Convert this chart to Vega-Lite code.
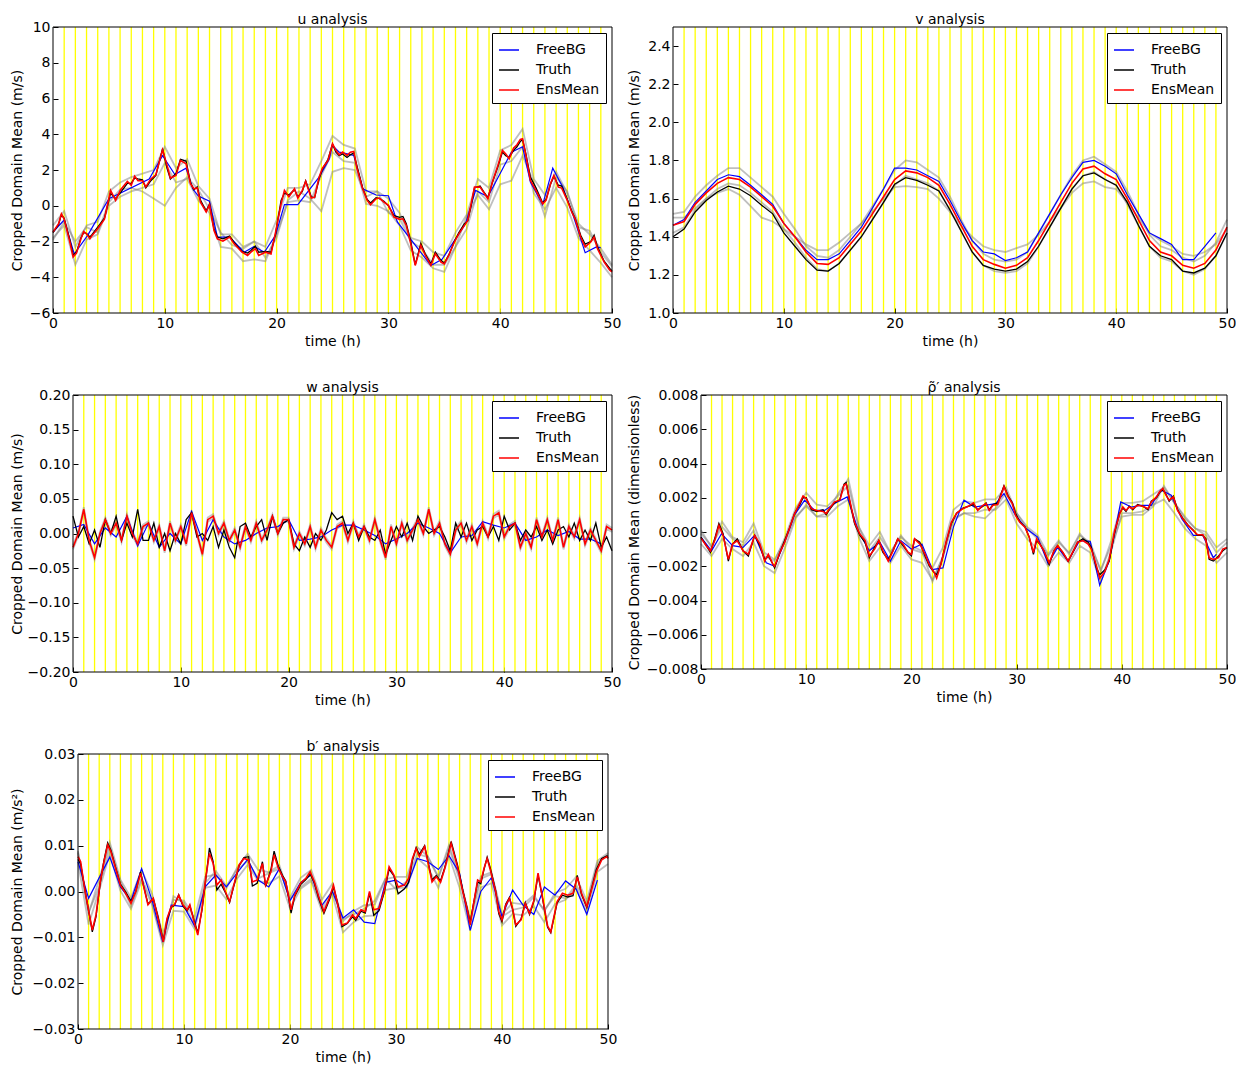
{
  "$schema": "https://vega.github.io/schema/vega-lite/v6.json",
  "padding": {"left": 10, "top": 13, "right": 0, "bottom": 0},
  "config": {
    "font": "DejaVu Sans",
    "view": {"stroke": null},
    "axis": {"grid": false, "domain": false, "tickColor": "#000000", "tickSize": -5, "labelPadding": 8, "labelFontSize": 14, "titleFontSize": 14, "titleFontWeight": "normal", "labelColor": "#000000", "titleColor": "#000000", "labelFlush": false, "labelOverlap": false, "labelSeparation": 0, "titlePadding": 4, "labelFont": "DejaVu Sans", "titleFont": "DejaVu Sans"},
    "title": {"fontSize": 14, "fontWeight": "normal", "color": "#000000", "font": "DejaVu Sans", "offset": -7, "frame": "group"},
    "legend": {"orient": "top-right", "offset": 6, "fillColor": "#ffffff", "strokeColor": "#000000", "padding": 6, "cornerRadius": 0, "symbolType": "stroke", "symbolSize": 400, "symbolStrokeWidth": 1.5, "labelFontSize": 14, "labelFont": "DejaVu Sans", "labelColor": "#000000", "labelOffset": 16, "rowPadding": 2}
  },
  "datasets": {
    "cycles": [{"t":1},{"t":2},{"t":3},{"t":4},{"t":5},{"t":6},{"t":7},{"t":8},{"t":9},{"t":10},{"t":11},{"t":12},{"t":13},{"t":14},{"t":15},{"t":16},{"t":17},{"t":18},{"t":19},{"t":20},{"t":21},{"t":22},{"t":23},{"t":24},{"t":25},{"t":26},{"t":27},{"t":28},{"t":29},{"t":30},{"t":31},{"t":32},{"t":33},{"t":34},{"t":35},{"t":36},{"t":37},{"t":38},{"t":39},{"t":40},{"t":41},{"t":42},{"t":43},{"t":44},{"t":45},{"t":46},{"t":47},{"t":48},{"t":49}],
    "u": [
      {"t":0,"EnsMean":-1.47,"Truth":-1.5},{"t":0.5,"EnsMean":-1.0,"Truth":-1.05},{"t":0.75,"EnsMean":-0.45,"Truth":-0.5},{"t":1,"EnsMean":-0.75,"Truth":-0.7},{"t":1.5,"EnsMean":-2.0,"Truth":-1.9},{"t":1.8,"EnsMean":-2.87,"Truth":-2.75},{"t":2.1,"EnsMean":-2.65,"Truth":-2.6},{"t":2.5,"EnsMean":-1.85,"Truth":-1.8},{"t":2.75,"EnsMean":-1.44,"Truth":-1.5},{"t":3,"EnsMean":-1.57,"Truth":-1.55},{"t":3.3,"EnsMean":-1.85,"Truth":-1.75},{"t":3.5,"EnsMean":-1.66,"Truth":-1.6},{"t":4,"EnsMean":-1.29,"Truth":-1.2},{"t":4.6,"EnsMean":-0.75,"Truth":-0.7},{"t":5.15,"EnsMean":0.86,"Truth":0.7},{"t":5.6,"EnsMean":0.3,"Truth":0.4},{"t":6.05,"EnsMean":0.9,"Truth":0.75},{"t":6.65,"EnsMean":1.36,"Truth":1.25},{"t":7,"EnsMean":1.14,"Truth":1.25},{"t":7.3,"EnsMean":1.66,"Truth":1.55},{"t":7.6,"EnsMean":1.4,"Truth":1.5},{"t":8,"EnsMean":1.4,"Truth":1.45},{"t":8.3,"EnsMean":1.05,"Truth":1.0},{"t":8.75,"EnsMean":1.5,"Truth":1.4},{"t":9.2,"EnsMean":1.73,"Truth":1.7},{"t":9.8,"EnsMean":3.13,"Truth":3.2},{"t":10.2,"EnsMean":2.26,"Truth":2.1},{"t":10.5,"EnsMean":1.55,"Truth":1.5},{"t":11,"EnsMean":1.7,"Truth":1.8},{"t":11.4,"EnsMean":2.54,"Truth":2.6},{"t":11.9,"EnsMean":2.35,"Truth":2.5},{"t":12.3,"EnsMean":1.23,"Truth":1.3},{"t":12.6,"EnsMean":0.95,"Truth":0.9},{"t":12.9,"EnsMean":0.99,"Truth":1.05},{"t":13.2,"EnsMean":0.2,"Truth":0.3},{"t":13.7,"EnsMean":-0.35,"Truth":-0.3},{"t":14,"EnsMean":0.06,"Truth":0.1},{"t":14.4,"EnsMean":-1.38,"Truth":-1.3},{"t":14.7,"EnsMean":-1.85,"Truth":-1.75},{"t":15.2,"EnsMean":-1.98,"Truth":-1.85},{"t":15.8,"EnsMean":-1.75,"Truth":-1.7},{"t":16.2,"EnsMean":-2.13,"Truth":-2.05},{"t":16.9,"EnsMean":-2.59,"Truth":-2.55},{"t":17.4,"EnsMean":-2.78,"Truth":-2.65},{"t":17.7,"EnsMean":-2.6,"Truth":-2.5},{"t":18.1,"EnsMean":-2.4,"Truth":-2.25},{"t":18.4,"EnsMean":-2.78,"Truth":-2.6},{"t":19,"EnsMean":-2.6,"Truth":-2.55},{"t":19.5,"EnsMean":-2.7,"Truth":-2.6},{"t":19.9,"EnsMean":-1.5,"Truth":-1.6},{"t":20.4,"EnsMean":0.1,"Truth":0.3},{"t":20.7,"EnsMean":0.86,"Truth":0.7},{"t":21.1,"EnsMean":0.5,"Truth":0.6},{"t":21.6,"EnsMean":0.95,"Truth":0.9},{"t":21.9,"EnsMean":0.43,"Truth":0.5},{"t":22.3,"EnsMean":0.86,"Truth":0.8},{"t":22.6,"EnsMean":1.36,"Truth":1.4},{"t":23.1,"EnsMean":0.43,"Truth":0.5},{"t":23.4,"EnsMean":0.48,"Truth":0.45},{"t":23.8,"EnsMean":1.6,"Truth":1.5},{"t":24.1,"EnsMean":2.1,"Truth":2.05},{"t":24.6,"EnsMean":2.54,"Truth":2.6},{"t":25,"EnsMean":3.47,"Truth":3.45},{"t":25.3,"EnsMean":3.1,"Truth":3.0},{"t":25.6,"EnsMean":2.85,"Truth":2.8},{"t":25.9,"EnsMean":3.0,"Truth":2.9},{"t":26.3,"EnsMean":2.82,"Truth":2.7},{"t":26.6,"EnsMean":3.0,"Truth":2.85},{"t":26.9,"EnsMean":3.04,"Truth":2.95},{"t":27.2,"EnsMean":2.07,"Truth":2.2},{"t":27.7,"EnsMean":0.95,"Truth":1.0},{"t":28.1,"EnsMean":0.3,"Truth":0.35},{"t":28.4,"EnsMean":0.06,"Truth":0.15},{"t":28.9,"EnsMean":0.39,"Truth":0.45},{"t":29.2,"EnsMean":0.43,"Truth":0.4},{"t":29.6,"EnsMean":0.2,"Truth":0.25},{"t":30,"EnsMean":0.02,"Truth":0.0},{"t":30.5,"EnsMean":-0.63,"Truth":-0.55},{"t":31,"EnsMean":-0.76,"Truth":-0.65},{"t":31.3,"EnsMean":-0.73,"Truth":-0.6},{"t":31.6,"EnsMean":-1.1,"Truth":-1.0},{"t":32,"EnsMean":-2.13,"Truth":-2.0},{"t":32.4,"EnsMean":-3.34,"Truth":-3.3},{"t":32.9,"EnsMean":-2.22,"Truth":-2.1},{"t":33.3,"EnsMean":-2.78,"Truth":-2.7},{"t":33.8,"EnsMean":-3.34,"Truth":-3.25},{"t":34.2,"EnsMean":-2.69,"Truth":-2.6},{"t":34.7,"EnsMean":-3.15,"Truth":-3.05},{"t":35,"EnsMean":-3.25,"Truth":-3.2},{"t":35.4,"EnsMean":-2.78,"Truth":-2.75},{"t":35.9,"EnsMean":-2.03,"Truth":-2.0},{"t":36.3,"EnsMean":-1.57,"Truth":-1.5},{"t":36.8,"EnsMean":-1.1,"Truth":-1.0},{"t":37.1,"EnsMean":-0.82,"Truth":-0.85},{"t":37.4,"EnsMean":0.11,"Truth":0.0},{"t":37.7,"EnsMean":1.04,"Truth":1.0},{"t":38.2,"EnsMean":1.04,"Truth":1.1},{"t":38.5,"EnsMean":0.77,"Truth":0.8},{"t":38.9,"EnsMean":0.39,"Truth":0.45},{"t":39.3,"EnsMean":1.32,"Truth":1.3},{"t":39.8,"EnsMean":2.26,"Truth":2.2},{"t":40.2,"EnsMean":3.1,"Truth":3.0},{"t":40.5,"EnsMean":2.9,"Truth":2.8},{"t":40.8,"EnsMean":2.63,"Truth":2.7},{"t":41.2,"EnsMean":3.23,"Truth":3.1},{"t":41.5,"EnsMean":3.41,"Truth":3.3},{"t":41.8,"EnsMean":3.71,"Truth":3.6},{"t":42,"EnsMean":3.75,"Truth":3.7},{"t":42.3,"EnsMean":2.82,"Truth":2.9},{"t":42.7,"EnsMean":1.42,"Truth":1.6},{"t":43.2,"EnsMean":0.86,"Truth":1.0},{"t":43.8,"EnsMean":0.1,"Truth":0.15},{"t":44.1,"EnsMean":0.3,"Truth":0.35},{"t":44.5,"EnsMean":1.23,"Truth":1.2},{"t":44.8,"EnsMean":1.7,"Truth":1.65},{"t":45.2,"EnsMean":1.04,"Truth":1.15},{"t":45.5,"EnsMean":0.99,"Truth":1.1},{"t":46,"EnsMean":0.3,"Truth":0.35},{"t":46.4,"EnsMean":-0.35,"Truth":-0.3},{"t":46.7,"EnsMean":-0.73,"Truth":-0.7},{"t":47.2,"EnsMean":-1.75,"Truth":-1.65},{"t":47.6,"EnsMean":-2.3,"Truth":-2.15},{"t":48.1,"EnsMean":-2.03,"Truth":-2.0},{"t":48.4,"EnsMean":-1.75,"Truth":-1.65},{"t":48.7,"EnsMean":-2.4,"Truth":-2.3},{"t":49,"EnsMean":-2.78,"Truth":-2.7},{"t":49.3,"EnsMean":-3.15,"Truth":-3.1},{"t":49.8,"EnsMean":-3.6,"Truth":-3.5},{"t":50,"EnsMean":-3.7,"Truth":-3.65},
      {"t":0,"FreeBG":-1.47},{"t":1,"FreeBG":-0.8},{"t":1.9,"FreeBG":-2.7},{"t":3.1,"FreeBG":-1.66},{"t":5,"FreeBG":0.4},{"t":8.6,"FreeBG":1.5},{"t":9.8,"FreeBG":2.8},{"t":10.9,"FreeBG":1.75},{"t":11.9,"FreeBG":2.1},{"t":12.5,"FreeBG":0.95},{"t":13,"FreeBG":0.54},{"t":14,"FreeBG":0.25},{"t":14.7,"FreeBG":-1.75},{"t":15.8,"FreeBG":-1.75},{"t":17.1,"FreeBG":-2.6},{"t":18,"FreeBG":-2.28},{"t":18.9,"FreeBG":-2.6},{"t":19.9,"FreeBG":-1.66},{"t":20.7,"FreeBG":0.06},{"t":21.9,"FreeBG":0.06},{"t":23.8,"FreeBG":1.6},{"t":24.7,"FreeBG":2.6},{"t":25,"FreeBG":3.38},{"t":25.6,"FreeBG":3.0},{"t":26.9,"FreeBG":2.82},{"t":27.7,"FreeBG":0.95},{"t":28.9,"FreeBG":0.6},{"t":30,"FreeBG":0.56},{"t":30.8,"FreeBG":-0.9},{"t":33.8,"FreeBG":-3.34},{"t":34.8,"FreeBG":-3.0},{"t":36.9,"FreeBG":-1.0},{"t":37.8,"FreeBG":0.86},{"t":38.9,"FreeBG":0.5},{"t":41,"FreeBG":3.0},{"t":42,"FreeBG":3.3},{"t":42.7,"FreeBG":1.32},{"t":43.8,"FreeBG":0.06},{"t":44.7,"FreeBG":2.1},{"t":45.6,"FreeBG":1.04},{"t":46.5,"FreeBG":-0.5},{"t":47.6,"FreeBG":-2.63},{"t":48.6,"FreeBG":-2.3},{"t":49,"FreeBG":-2.35},
      {"t":0,"m1":-1.1,"m2":-1.8,"m3":-1.9},{"t":1,"m1":-0.3,"m2":-1.1,"m3":-0.9},{"t":2,"m1":-2.3,"m2":-3.3,"m3":-2.0},{"t":3,"m1":-1.1,"m2":-1.9,"m3":-1.2},{"t":4,"m1":-0.9,"m2":-1.6,"m3":-1.5},{"t":5,"m1":0.8,"m2":0.0,"m3":0.2},{"t":6,"m1":1.3,"m2":0.5,"m3":0.9},{"t":7,"m1":1.6,"m2":0.8,"m3":1.0},{"t":8,"m1":1.8,"m2":1.0,"m3":0.8},{"t":9,"m1":2.0,"m2":1.2,"m3":0.4},{"t":10,"m1":3.3,"m2":2.4,"m3":0.0},{"t":11,"m1":2.1,"m2":1.3,"m3":1.0},{"t":12,"m1":2.6,"m2":1.5,"m3":1.6},{"t":13,"m1":1.1,"m2":0.3,"m3":0.9},{"t":14,"m1":0.4,"m2":-0.4,"m3":-0.2},{"t":15,"m1":-1.6,"m2":-2.3,"m3":-1.5},{"t":16,"m1":-1.6,"m2":-2.4,"m3":-2.2},{"t":17,"m1":-2.3,"m2":-3.1,"m3":-2.4},{"t":18,"m1":-2.0,"m2":-3.0,"m3":-2.0},{"t":19,"m1":-2.3,"m2":-3.1,"m3":-2.9},{"t":20,"m1":-0.8,"m2":-1.6,"m3":-1.8},{"t":21,"m1":1.0,"m2":0.2,"m3":0.3},{"t":22,"m1":1.0,"m2":0.3,"m3":0.8},{"t":23,"m1":1.2,"m2":0.2,"m3":0.4},{"t":24,"m1":2.5,"m2":1.7,"m3":-0.3},{"t":25,"m1":3.9,"m2":3.0,"m3":1.9},{"t":26,"m1":3.4,"m2":2.5,"m3":2.1},{"t":27,"m1":3.2,"m2":2.4,"m3":2.0},{"t":28,"m1":0.8,"m2":0.1,"m3":0.5},{"t":29,"m1":0.8,"m2":0.0,"m3":0.8},{"t":30,"m1":0.4,"m2":-0.3,"m3":-0.4},{"t":31,"m1":-0.4,"m2":-1.1,"m3":-0.7},{"t":32,"m1":-1.8,"m2":-2.5,"m3":-2.0},{"t":33,"m1":-2.0,"m2":-2.9,"m3":-2.4},{"t":34,"m1":-2.6,"m2":-3.5,"m3":-3.3},{"t":35,"m1":-2.8,"m2":-3.7,"m3":-3.3},{"t":36,"m1":-1.5,"m2":-2.3,"m3":-2.3},{"t":37,"m1":-0.5,"m2":-1.3,"m3":-0.6},{"t":38,"m1":1.5,"m2":0.8,"m3":0.6},{"t":39,"m1":1.0,"m2":0.2,"m3":-0.2},{"t":40,"m1":3.1,"m2":2.3,"m3":1.2},{"t":41,"m1":3.4,"m2":2.5,"m3":1.4},{"t":42,"m1":4.3,"m2":3.3,"m3":2.8},{"t":43,"m1":1.5,"m2":0.7,"m3":1.3},{"t":44,"m1":0.6,"m2":-0.2,"m3":-0.6},{"t":45,"m1":1.9,"m2":1.0,"m3":1.6},{"t":46,"m1":0.7,"m2":-0.1,"m3":0.8},{"t":47,"m1":-1.0,"m2":-1.8,"m3":-1.2},{"t":48,"m1":-1.6,"m2":-2.5,"m3":-1.4},{"t":49,"m1":-2.4,"m2":-3.2,"m3":-2.6},{"t":50,"m1":-3.3,"m2":-4.0,"m3":-3.4}
    ],
    "v": [
      {"t":0,"EnsMean":1.46,"Truth":1.40,"FreeBG":1.46,"m1":1.52,"m2":1.42,"m3":1.50},
      {"t":1,"EnsMean":1.48,"Truth":1.44,"FreeBG":1.49,"m1":1.53,"m2":1.45,"m3":1.50},
      {"t":2,"EnsMean":1.57,"Truth":1.53,"FreeBG":1.58,"m1":1.61,"m2":1.54,"m3":1.55},
      {"t":3,"EnsMean":1.63,"Truth":1.59,"FreeBG":1.64,"m1":1.67,"m2":1.60,"m3":1.60},
      {"t":4,"EnsMean":1.68,"Truth":1.635,"FreeBG":1.70,"m1":1.72,"m2":1.65,"m3":1.63},
      {"t":5,"EnsMean":1.71,"Truth":1.665,"FreeBG":1.725,"m1":1.76,"m2":1.68,"m3":1.65},
      {"t":6,"EnsMean":1.70,"Truth":1.65,"FreeBG":1.715,"m1":1.76,"m2":1.67,"m3":1.62},
      {"t":7,"EnsMean":1.66,"Truth":1.615,"FreeBG":1.67,"m1":1.71,"m2":1.63,"m3":1.56},
      {"t":8,"EnsMean":1.61,"Truth":1.565,"FreeBG":1.62,"m1":1.66,"m2":1.58,"m3":1.50},
      {"t":9,"EnsMean":1.56,"Truth":1.52,"FreeBG":1.57,"m1":1.61,"m2":1.53,"m3":1.48},
      {"t":10,"EnsMean":1.47,"Truth":1.42,"FreeBG":1.47,"m1":1.52,"m2":1.44,"m3":1.44},
      {"t":11,"EnsMean":1.40,"Truth":1.35,"FreeBG":1.40,"m1":1.44,"m2":1.37,"m3":1.40},
      {"t":12,"EnsMean":1.32,"Truth":1.28,"FreeBG":1.33,"m1":1.35,"m2":1.29,"m3":1.36},
      {"t":13,"EnsMean":1.26,"Truth":1.225,"FreeBG":1.28,"m1":1.30,"m2":1.23,"m3":1.33},
      {"t":14,"EnsMean":1.255,"Truth":1.22,"FreeBG":1.28,"m1":1.29,"m2":1.22,"m3":1.33},
      {"t":15,"EnsMean":1.29,"Truth":1.26,"FreeBG":1.31,"m1":1.33,"m2":1.26,"m3":1.37},
      {"t":16,"EnsMean":1.36,"Truth":1.33,"FreeBG":1.38,"m1":1.40,"m2":1.33,"m3":1.42},
      {"t":17,"EnsMean":1.43,"Truth":1.40,"FreeBG":1.45,"m1":1.47,"m2":1.40,"m3":1.47},
      {"t":18,"EnsMean":1.52,"Truth":1.49,"FreeBG":1.55,"m1":1.56,"m2":1.49,"m3":1.53},
      {"t":19,"EnsMean":1.61,"Truth":1.58,"FreeBG":1.65,"m1":1.65,"m2":1.58,"m3":1.60},
      {"t":20,"EnsMean":1.70,"Truth":1.675,"FreeBG":1.76,"m1":1.75,"m2":1.67,"m3":1.66},
      {"t":21,"EnsMean":1.745,"Truth":1.71,"FreeBG":1.76,"m1":1.80,"m2":1.72,"m3":1.665},
      {"t":22,"EnsMean":1.735,"Truth":1.695,"FreeBG":1.75,"m1":1.79,"m2":1.70,"m3":1.66},
      {"t":23,"EnsMean":1.71,"Truth":1.67,"FreeBG":1.72,"m1":1.75,"m2":1.68,"m3":1.65},
      {"t":24,"EnsMean":1.67,"Truth":1.64,"FreeBG":1.69,"m1":1.71,"m2":1.64,"m3":1.60},
      {"t":25,"EnsMean":1.57,"Truth":1.54,"FreeBG":1.59,"m1":1.61,"m2":1.54,"m3":1.53},
      {"t":26,"EnsMean":1.46,"Truth":1.43,"FreeBG":1.48,"m1":1.49,"m2":1.43,"m3":1.46},
      {"t":27,"EnsMean":1.35,"Truth":1.32,"FreeBG":1.38,"m1":1.38,"m2":1.32,"m3":1.40},
      {"t":28,"EnsMean":1.28,"Truth":1.25,"FreeBG":1.32,"m1":1.31,"m2":1.25,"m3":1.35},
      {"t":29,"EnsMean":1.255,"Truth":1.23,"FreeBG":1.31,"m1":1.28,"m2":1.22,"m3":1.33},
      {"t":30,"EnsMean":1.235,"Truth":1.22,"FreeBG":1.275,"m1":1.27,"m2":1.21,"m3":1.32},
      {"t":31,"EnsMean":1.25,"Truth":1.23,"FreeBG":1.29,"m1":1.28,"m2":1.22,"m3":1.34},
      {"t":32,"EnsMean":1.29,"Truth":1.27,"FreeBG":1.32,"m1":1.32,"m2":1.26,"m3":1.36},
      {"t":33,"EnsMean":1.38,"Truth":1.35,"FreeBG":1.42,"m1":1.42,"m2":1.35,"m3":1.41},
      {"t":34,"EnsMean":1.48,"Truth":1.45,"FreeBG":1.52,"m1":1.52,"m2":1.45,"m3":1.48},
      {"t":35,"EnsMean":1.58,"Truth":1.55,"FreeBG":1.62,"m1":1.62,"m2":1.55,"m3":1.55},
      {"t":36,"EnsMean":1.68,"Truth":1.65,"FreeBG":1.71,"m1":1.72,"m2":1.65,"m3":1.63},
      {"t":37,"EnsMean":1.755,"Truth":1.72,"FreeBG":1.79,"m1":1.80,"m2":1.72,"m3":1.68},
      {"t":38,"EnsMean":1.77,"Truth":1.735,"FreeBG":1.80,"m1":1.82,"m2":1.74,"m3":1.69},
      {"t":39,"EnsMean":1.73,"Truth":1.70,"FreeBG":1.77,"m1":1.78,"m2":1.70,"m3":1.66},
      {"t":40,"EnsMean":1.70,"Truth":1.67,"FreeBG":1.73,"m1":1.74,"m2":1.67,"m3":1.65},
      {"t":41,"EnsMean":1.60,"Truth":1.58,"FreeBG":1.62,"m1":1.64,"m2":1.57,"m3":1.58},
      {"t":42,"EnsMean":1.49,"Truth":1.46,"FreeBG":1.52,"m1":1.52,"m2":1.46,"m3":1.50},
      {"t":43,"EnsMean":1.38,"Truth":1.35,"FreeBG":1.42,"m1":1.41,"m2":1.35,"m3":1.42},
      {"t":44,"EnsMean":1.32,"Truth":1.30,"FreeBG":1.39,"m1":1.35,"m2":1.29,"m3":1.38},
      {"t":45,"EnsMean":1.30,"Truth":1.28,"FreeBG":1.36,"m1":1.33,"m2":1.27,"m3":1.35},
      {"t":46,"EnsMean":1.25,"Truth":1.22,"FreeBG":1.28,"m1":1.29,"m2":1.22,"m3":1.31},
      {"t":47,"EnsMean":1.235,"Truth":1.21,"FreeBG":1.28,"m1":1.27,"m2":1.20,"m3":1.30},
      {"t":48,"EnsMean":1.26,"Truth":1.235,"FreeBG":1.35,"m1":1.30,"m2":1.23,"m3":1.32},
      {"t":49,"EnsMean":1.33,"Truth":1.30,"FreeBG":1.42,"m1":1.37,"m2":1.30,"m3":1.36},
      {"t":50,"EnsMean":1.45,"Truth":1.42,"m1":1.49,"m2":1.42,"m3":1.44}
    ],
    "w": [
      {"t":0,"EnsMean":-0.02,"Truth":0.025,"FreeBG":0.008,"m1":-0.017,"m2":-0.023},{"t":0.5,"EnsMean":0.0,"Truth":-0.005,"m1":0.003,"m2":-0.003},
      {"t":1,"EnsMean":0.035,"Truth":0.01,"FreeBG":0.013,"m1":0.038,"m2":0.032},{"t":1.5,"EnsMean":-0.01,"Truth":-0.015,"m1":-0.007,"m2":-0.013},
      {"t":2,"EnsMean":-0.035,"Truth":0.005,"FreeBG":-0.015,"m1":-0.032,"m2":-0.038},{"t":2.5,"EnsMean":0.0,"Truth":-0.02,"m1":0.003,"m2":-0.003},
      {"t":3,"EnsMean":0.02,"Truth":0.02,"FreeBG":0.008,"m1":0.023,"m2":0.017},{"t":3.5,"EnsMean":0.0,"Truth":0.0,"m1":0.003,"m2":-0.003},
      {"t":4,"EnsMean":0.015,"Truth":0.025,"FreeBG":-0.005,"m1":0.018,"m2":0.012},{"t":4.5,"EnsMean":-0.01,"Truth":-0.01,"m1":-0.007,"m2":-0.013},
      {"t":5,"EnsMean":0.025,"Truth":0.015,"FreeBG":0.025,"m1":0.028,"m2":0.022},{"t":5.5,"EnsMean":0.0,"Truth":-0.005,"m1":0.003,"m2":-0.003},
      {"t":6,"EnsMean":-0.015,"Truth":0.035,"FreeBG":-0.018,"m1":-0.012,"m2":-0.018},{"t":6.5,"EnsMean":0.01,"Truth":-0.01,"m1":0.013,"m2":0.007},
      {"t":7,"EnsMean":0.015,"Truth":-0.01,"FreeBG":0.015,"m1":0.018,"m2":0.012},{"t":7.5,"EnsMean":-0.01,"Truth":0.015,"m1":-0.007,"m2":-0.013},
      {"t":8,"EnsMean":0.01,"Truth":-0.02,"FreeBG":-0.02,"m1":0.013,"m2":0.007},{"t":8.5,"EnsMean":-0.025,"Truth":0.0,"m1":-0.022,"m2":-0.028},
      {"t":9,"EnsMean":0.015,"Truth":-0.025,"FreeBG":0.0,"m1":0.018,"m2":0.012},{"t":9.5,"EnsMean":-0.01,"Truth":0.0,"m1":-0.007,"m2":-0.013},
      {"t":10,"EnsMean":0.01,"Truth":-0.015,"FreeBG":-0.015,"m1":0.013,"m2":0.007},{"t":10.5,"EnsMean":-0.015,"Truth":0.02,"m1":-0.012,"m2":-0.018},
      {"t":11,"EnsMean":0.03,"Truth":0.03,"FreeBG":0.032,"m1":0.033,"m2":0.027},{"t":11.5,"EnsMean":0.0,"Truth":-0.005,"m1":0.003,"m2":-0.003},
      {"t":12,"EnsMean":-0.03,"Truth":0.0,"FreeBG":-0.01,"m1":-0.027,"m2":-0.033},{"t":12.5,"EnsMean":0.02,"Truth":-0.01,"m1":0.023,"m2":0.017},
      {"t":13,"EnsMean":0.025,"Truth":0.01,"FreeBG":0.02,"m1":0.028,"m2":0.022},{"t":13.5,"EnsMean":0.0,"Truth":-0.02,"m1":0.003,"m2":-0.003},
      {"t":14,"EnsMean":0.015,"Truth":0.005,"FreeBG":-0.005,"m1":0.018,"m2":0.012},{"t":14.5,"EnsMean":-0.01,"Truth":-0.02,"m1":-0.007,"m2":-0.013},
      {"t":15,"EnsMean":0.005,"Truth":-0.035,"FreeBG":-0.015,"m1":0.008,"m2":0.002},{"t":15.5,"EnsMean":-0.02,"Truth":0.01,"m1":-0.017,"m2":-0.023},
      {"t":16,"EnsMean":0.01,"Truth":0.015,"FreeBG":-0.01,"m1":0.013,"m2":0.007},{"t":16.5,"EnsMean":-0.01,"Truth":-0.005,"m1":-0.007,"m2":-0.013},
      {"t":17,"EnsMean":0.015,"Truth":0.01,"FreeBG":0.0,"m1":0.018,"m2":0.012},{"t":17.5,"EnsMean":-0.01,"Truth":0.02,"m1":-0.007,"m2":-0.013},
      {"t":18,"EnsMean":0.005,"Truth":-0.01,"FreeBG":0.008,"m1":0.008,"m2":0.002},{"t":18.5,"EnsMean":0.025,"Truth":0.025,"m1":0.028,"m2":0.022},
      {"t":19,"EnsMean":0.0,"Truth":0.0,"FreeBG":0.01,"m1":0.003,"m2":-0.003},{"t":19.5,"EnsMean":0.02,"Truth":0.015,"m1":0.023,"m2":0.017},
      {"t":20,"EnsMean":0.02,"Truth":0.02,"FreeBG":0.02,"m1":0.023,"m2":0.017},{"t":20.5,"EnsMean":-0.02,"Truth":-0.015,"m1":-0.017,"m2":-0.023},
      {"t":21,"EnsMean":0.0,"Truth":-0.025,"FreeBG":-0.01,"m1":0.003,"m2":-0.003},{"t":21.5,"EnsMean":-0.015,"Truth":-0.005,"m1":-0.012,"m2":-0.018},
      {"t":22,"EnsMean":0.01,"Truth":-0.02,"FreeBG":-0.008,"m1":0.013,"m2":0.007},{"t":22.5,"EnsMean":-0.02,"Truth":0.0,"m1":-0.017,"m2":-0.023},
      {"t":23,"EnsMean":0.005,"Truth":-0.01,"FreeBG":-0.005,"m1":0.008,"m2":0.002},{"t":23.5,"EnsMean":-0.01,"Truth":0.005,"m1":-0.007,"m2":-0.013},
      {"t":24,"EnsMean":-0.02,"Truth":0.03,"FreeBG":0.005,"m1":-0.017,"m2":-0.023},{"t":24.5,"EnsMean":0.01,"Truth":0.02,"m1":0.013,"m2":0.007},
      {"t":25,"EnsMean":0.015,"Truth":0.025,"FreeBG":0.012,"m1":0.018,"m2":0.012},{"t":25.5,"EnsMean":-0.01,"Truth":0.0,"m1":-0.007,"m2":-0.013},
      {"t":26,"EnsMean":0.015,"Truth":0.015,"FreeBG":0.012,"m1":0.018,"m2":0.012},{"t":26.5,"EnsMean":-0.005,"Truth":-0.01,"m1":-0.002,"m2":-0.008},
      {"t":27,"EnsMean":0.01,"Truth":0.01,"FreeBG":0.005,"m1":0.013,"m2":0.007},{"t":27.5,"EnsMean":-0.01,"Truth":-0.005,"m1":-0.007,"m2":-0.013},
      {"t":28,"EnsMean":0.02,"Truth":-0.01,"FreeBG":-0.003,"m1":0.023,"m2":0.017},{"t":28.5,"EnsMean":-0.01,"Truth":0.005,"m1":-0.007,"m2":-0.013},
      {"t":29,"EnsMean":-0.035,"Truth":-0.03,"FreeBG":-0.015,"m1":-0.032,"m2":-0.038},{"t":29.5,"EnsMean":0.01,"Truth":-0.01,"m1":0.013,"m2":0.007},
      {"t":30,"EnsMean":-0.015,"Truth":0.01,"FreeBG":-0.008,"m1":-0.012,"m2":-0.018},{"t":30.5,"EnsMean":0.015,"Truth":-0.005,"m1":0.018,"m2":0.012},
      {"t":31,"EnsMean":-0.01,"Truth":0.015,"FreeBG":0.0,"m1":-0.007,"m2":-0.013},{"t":31.5,"EnsMean":0.005,"Truth":-0.01,"m1":0.008,"m2":0.002},
      {"t":32,"EnsMean":0.02,"Truth":0.025,"FreeBG":0.015,"m1":0.023,"m2":0.017},{"t":32.5,"EnsMean":0.0,"Truth":0.01,"m1":0.003,"m2":-0.003},
      {"t":33,"EnsMean":0.035,"Truth":0.0,"FreeBG":0.008,"m1":0.038,"m2":0.032},{"t":33.5,"EnsMean":0.0,"Truth":0.005,"m1":0.003,"m2":-0.003},
      {"t":34,"EnsMean":0.015,"Truth":0.01,"FreeBG":0.0,"m1":0.018,"m2":0.012},{"t":34.5,"EnsMean":-0.015,"Truth":-0.005,"m1":-0.012,"m2":-0.018},
      {"t":35,"EnsMean":-0.03,"Truth":-0.025,"FreeBG":-0.028,"m1":-0.027,"m2":-0.033},{"t":35.5,"EnsMean":0.005,"Truth":0.015,"m1":0.008,"m2":0.002},
      {"t":36,"EnsMean":0.015,"Truth":-0.005,"FreeBG":-0.005,"m1":0.018,"m2":0.012},{"t":36.5,"EnsMean":-0.01,"Truth":0.015,"m1":-0.007,"m2":-0.013},
      {"t":37,"EnsMean":0.01,"Truth":-0.01,"FreeBG":-0.003,"m1":0.013,"m2":0.007},{"t":37.5,"EnsMean":-0.015,"Truth":0.005,"m1":-0.012,"m2":-0.018},
      {"t":38,"EnsMean":0.015,"Truth":0.01,"FreeBG":0.017,"m1":0.018,"m2":0.012},{"t":38.5,"EnsMean":-0.005,"Truth":-0.005,"m1":-0.002,"m2":-0.008},
      {"t":39,"EnsMean":0.025,"Truth":0.01,"FreeBG":0.012,"m1":0.028,"m2":0.022},{"t":39.5,"EnsMean":0.03,"Truth":-0.01,"m1":0.033,"m2":0.027},
      {"t":40,"EnsMean":-0.005,"Truth":0.025,"FreeBG":0.008,"m1":-0.002,"m2":-0.008},{"t":40.5,"EnsMean":0.01,"Truth":0.005,"m1":0.013,"m2":0.007},
      {"t":41,"EnsMean":0.015,"Truth":0.015,"FreeBG":0.015,"m1":0.018,"m2":0.012},{"t":41.5,"EnsMean":-0.02,"Truth":-0.01,"m1":-0.017,"m2":-0.023},
      {"t":42,"EnsMean":0.0,"Truth":0.005,"FreeBG":-0.01,"m1":0.003,"m2":-0.003},{"t":42.5,"EnsMean":-0.02,"Truth":-0.005,"m1":-0.017,"m2":-0.023},
      {"t":43,"EnsMean":0.02,"Truth":0.01,"FreeBG":-0.005,"m1":0.023,"m2":0.017},{"t":43.5,"EnsMean":-0.005,"Truth":-0.01,"m1":-0.002,"m2":-0.008},
      {"t":44,"EnsMean":0.02,"Truth":0.005,"FreeBG":0.005,"m1":0.023,"m2":0.017},{"t":44.5,"EnsMean":-0.01,"Truth":-0.015,"m1":-0.007,"m2":-0.013},
      {"t":45,"EnsMean":0.02,"Truth":0.005,"FreeBG":-0.003,"m1":0.023,"m2":0.017},{"t":45.5,"EnsMean":-0.02,"Truth":0.01,"m1":-0.017,"m2":-0.023},
      {"t":46,"EnsMean":0.01,"Truth":-0.005,"FreeBG":0.003,"m1":0.013,"m2":0.007},{"t":46.5,"EnsMean":-0.005,"Truth":0.015,"m1":-0.002,"m2":-0.008},
      {"t":47,"EnsMean":0.02,"Truth":-0.01,"FreeBG":-0.008,"m1":0.023,"m2":0.017},{"t":47.5,"EnsMean":-0.015,"Truth":0.005,"m1":-0.012,"m2":-0.018},
      {"t":48,"EnsMean":0.005,"Truth":-0.01,"FreeBG":-0.008,"m1":0.008,"m2":0.002},{"t":48.5,"EnsMean":-0.01,"Truth":0.015,"m1":-0.007,"m2":-0.013},
      {"t":49,"EnsMean":-0.025,"Truth":-0.02,"FreeBG":-0.015,"m1":-0.022,"m2":-0.028},{"t":49.5,"EnsMean":0.01,"Truth":-0.005,"m1":0.013,"m2":0.007},
      {"t":50,"EnsMean":0.005,"Truth":-0.025,"m1":0.008,"m2":0.002}
    ],
    "rho": [
      {"t":0,"EnsMean":-0.00036,"Truth":-0.0003},{"t":0.5,"EnsMean":-0.0008,"Truth":-0.0008},{"t":0.9,"EnsMean":-0.0011,"Truth":-0.0012},{"t":1.3,"EnsMean":-0.0005,"Truth":-0.0004},{"t":1.7,"EnsMean":0.00038,"Truth":0.0005},{"t":2.1,"EnsMean":-0.0002,"Truth":-0.0001},{"t":2.6,"EnsMean":-0.0016,"Truth":-0.0017},{"t":3,"EnsMean":-0.0007,"Truth":-0.0007},{"t":3.45,"EnsMean":-0.0005,"Truth":-0.0004},{"t":4,"EnsMean":-0.0011,"Truth":-0.0011},{"t":4.5,"EnsMean":-0.0013,"Truth":-0.0014},{"t":5.1,"EnsMean":-0.0002,"Truth":-0.0002},{"t":5.6,"EnsMean":-0.0007,"Truth":-0.0008},{"t":6.05,"EnsMean":-0.0017,"Truth":-0.0016},{"t":6.4,"EnsMean":-0.0013,"Truth":-0.0014},{"t":6.85,"EnsMean":-0.0019,"Truth":-0.0019},{"t":7,"EnsMean":-0.002,"Truth":-0.0021},{"t":7.5,"EnsMean":-0.0012,"Truth":-0.0012},{"t":7.95,"EnsMean":-0.0006,"Truth":-0.0005},{"t":8.4,"EnsMean":0.0002,"Truth":0.0002},{"t":8.9,"EnsMean":0.00107,"Truth":0.0011},{"t":9.4,"EnsMean":0.0017,"Truth":0.0016},{"t":9.7,"EnsMean":0.0021,"Truth":0.002},{"t":10,"EnsMean":0.00195,"Truth":0.002},{"t":10.5,"EnsMean":0.00136,"Truth":0.0013},{"t":11,"EnsMean":0.00126,"Truth":0.0012},{"t":11.6,"EnsMean":0.0012,"Truth":0.0013},{"t":11.9,"EnsMean":0.00107,"Truth":0.001},{"t":12.2,"EnsMean":0.00136,"Truth":0.0013},{"t":12.7,"EnsMean":0.00176,"Truth":0.0017},{"t":13.2,"EnsMean":0.00186,"Truth":0.0019},{"t":13.6,"EnsMean":0.00275,"Truth":0.0028},{"t":13.8,"EnsMean":0.0028,"Truth":0.0029},{"t":14.1,"EnsMean":0.00196,"Truth":0.0019},{"t":14.6,"EnsMean":0.00057,"Truth":0.0005},{"t":15.1,"EnsMean":-0.00012,"Truth":-0.0002},{"t":15.6,"EnsMean":-0.0005,"Truth":-0.0006},{"t":16,"EnsMean":-0.0014,"Truth":-0.0015},{"t":16.5,"EnsMean":-0.001,"Truth":-0.0009},{"t":16.9,"EnsMean":-0.0005,"Truth":-0.0005},{"t":17.3,"EnsMean":-0.0011,"Truth":-0.0012},{"t":17.8,"EnsMean":-0.0017,"Truth":-0.0016},{"t":18.25,"EnsMean":-0.0011,"Truth":-0.0011},{"t":18.7,"EnsMean":-0.0004,"Truth":-0.0004},{"t":19.2,"EnsMean":-0.0007,"Truth":-0.0008},{"t":19.7,"EnsMean":-0.0012,"Truth":-0.0012},{"t":20,"EnsMean":-0.0013,"Truth":-0.0014},{"t":20.3,"EnsMean":-0.0004,"Truth":-0.0004},{"t":20.8,"EnsMean":-0.0007,"Truth":-0.0006},{"t":21.3,"EnsMean":-0.0013,"Truth":-0.0014},{"t":21.7,"EnsMean":-0.0019,"Truth":-0.002},{"t":22.2,"EnsMean":-0.0024,"Truth":-0.0024},{"t":22.4,"EnsMean":-0.0027,"Truth":-0.0025},{"t":22.8,"EnsMean":-0.0019,"Truth":-0.0019},{"t":23.3,"EnsMean":-0.0006,"Truth":-0.0006},{"t":23.8,"EnsMean":0.00057,"Truth":0.0005},{"t":24.3,"EnsMean":0.0011,"Truth":0.0011},{"t":24.9,"EnsMean":0.00136,"Truth":0.0014},{"t":25.4,"EnsMean":0.0015,"Truth":0.0015},{"t":25.9,"EnsMean":0.0017,"Truth":0.0016},{"t":26.3,"EnsMean":0.00126,"Truth":0.0013},{"t":26.8,"EnsMean":0.00156,"Truth":0.0015},{"t":27.1,"EnsMean":0.00166,"Truth":0.0017},{"t":27.4,"EnsMean":0.00126,"Truth":0.0013},{"t":27.75,"EnsMean":0.00156,"Truth":0.0016},{"t":28.2,"EnsMean":0.0016,"Truth":0.0017},{"t":28.8,"EnsMean":0.00265,"Truth":0.0027},{"t":29.2,"EnsMean":0.00205,"Truth":0.0021},{"t":29.6,"EnsMean":0.00166,"Truth":0.0017},{"t":29.9,"EnsMean":0.00097,"Truth":0.0011},{"t":30.3,"EnsMean":0.00057,"Truth":0.0006},{"t":30.8,"EnsMean":0.00028,"Truth":0.0003},{"t":31.2,"EnsMean":-0.0003,"Truth":-0.0003},{"t":31.6,"EnsMean":-0.0012,"Truth":-0.0013},{"t":31.9,"EnsMean":-0.0004,"Truth":-0.0005},{"t":32.2,"EnsMean":-0.0007,"Truth":-0.0007},{"t":32.6,"EnsMean":-0.0011,"Truth":-0.0011},{"t":33.1,"EnsMean":-0.0018,"Truth":-0.0019},{"t":33.55,"EnsMean":-0.0011,"Truth":-0.0011},{"t":33.9,"EnsMean":-0.0008,"Truth":-0.0008},{"t":34.4,"EnsMean":-0.0012,"Truth":-0.0012},{"t":34.9,"EnsMean":-0.0017,"Truth":-0.0017},{"t":35.4,"EnsMean":-0.0011,"Truth":-0.0011},{"t":35.8,"EnsMean":-0.0006,"Truth":-0.0006},{"t":36.3,"EnsMean":-0.0005,"Truth":-0.0004},{"t":36.8,"EnsMean":-0.0007,"Truth":-0.0006},{"t":37.1,"EnsMean":-0.001,"Truth":-0.0009},{"t":37.6,"EnsMean":-0.002,"Truth":-0.0021},{"t":37.9,"EnsMean":-0.0027,"Truth":-0.0025},{"t":38.4,"EnsMean":-0.0023,"Truth":-0.0022},{"t":38.8,"EnsMean":-0.0016,"Truth":-0.0017},{"t":39.3,"EnsMean":0.0,"Truth":-0.0001},{"t":39.8,"EnsMean":0.00107,"Truth":0.0011},{"t":40.1,"EnsMean":0.00146,"Truth":0.0014},{"t":40.4,"EnsMean":0.00126,"Truth":0.0012},{"t":40.7,"EnsMean":0.00146,"Truth":0.0015},{"t":41.05,"EnsMean":0.00136,"Truth":0.0013},{"t":41.5,"EnsMean":0.00156,"Truth":0.0016},{"t":42,"EnsMean":0.0015,"Truth":0.0015},{"t":42.5,"EnsMean":0.00136,"Truth":0.0013},{"t":42.8,"EnsMean":0.00176,"Truth":0.0018},{"t":43.3,"EnsMean":0.00205,"Truth":0.002},{"t":43.6,"EnsMean":0.00235,"Truth":0.0023},{"t":43.9,"EnsMean":0.00255,"Truth":0.0025},{"t":44.2,"EnsMean":0.00215,"Truth":0.0022},{"t":44.5,"EnsMean":0.00186,"Truth":0.0018},{"t":44.9,"EnsMean":0.00205,"Truth":0.0021},{"t":45.3,"EnsMean":0.00126,"Truth":0.0013},{"t":45.8,"EnsMean":0.00077,"Truth":0.0008},{"t":46.3,"EnsMean":0.00038,"Truth":0.0004},{"t":46.8,"EnsMean":0.00008,"Truth":0.0001},{"t":47.2,"EnsMean":-0.00016,"Truth":-0.0002},{"t":47.7,"EnsMean":-0.00016,"Truth":-0.0002},{"t":48,"EnsMean":-0.0005,"Truth":-0.0004},{"t":48.3,"EnsMean":-0.0015,"Truth":-0.0016},{"t":48.7,"EnsMean":-0.0016,"Truth":-0.0017},{"t":49.2,"EnsMean":-0.0015,"Truth":-0.0014},{"t":49.6,"EnsMean":-0.001,"Truth":-0.0011},{"t":50,"EnsMean":-0.0009,"Truth":-0.0009},
      {"t":0,"FreeBG":-0.0003},{"t":1,"FreeBG":-0.0011},{"t":1.95,"FreeBG":-0.0001},{"t":3,"FreeBG":-0.0008},{"t":4,"FreeBG":-0.0009},{"t":5.1,"FreeBG":-0.0002},{"t":6.2,"FreeBG":-0.0018},{"t":7,"FreeBG":-0.002},{"t":7.95,"FreeBG":-0.0006},{"t":8.9,"FreeBG":0.001},{"t":9.85,"FreeBG":0.00186},{"t":10.8,"FreeBG":0.00126},{"t":11.75,"FreeBG":0.00126},{"t":12.7,"FreeBG":0.00166},{"t":13.9,"FreeBG":0.00205},{"t":15,"FreeBG":0.0},{"t":16,"FreeBG":-0.0011},{"t":17,"FreeBG":-0.0006},{"t":18,"FreeBG":-0.0017},{"t":19,"FreeBG":-0.0005},{"t":20,"FreeBG":-0.001},{"t":21,"FreeBG":-0.0007},{"t":22,"FreeBG":-0.0022},{"t":23,"FreeBG":-0.0021},{"t":24,"FreeBG":0.0003},{"t":25,"FreeBG":0.00186},{"t":26,"FreeBG":0.00146},{"t":27,"FreeBG":0.00156},{"t":28,"FreeBG":0.00166},{"t":28.8,"FreeBG":0.00225},{"t":29.8,"FreeBG":0.00107},{"t":30.9,"FreeBG":0.0002},{"t":32,"FreeBG":-0.0003},{"t":33,"FreeBG":-0.00186},{"t":33.9,"FreeBG":-0.0009},{"t":34.9,"FreeBG":-0.0017},{"t":36,"FreeBG":-0.0005},{"t":37,"FreeBG":-0.00055},{"t":37.9,"FreeBG":-0.0031},{"t":38.8,"FreeBG":-0.0017},{"t":39.9,"FreeBG":0.00176},{"t":40.9,"FreeBG":0.00146},{"t":41.8,"FreeBG":0.00156},{"t":42.8,"FreeBG":0.00156},{"t":43.7,"FreeBG":0.00245},{"t":44.7,"FreeBG":0.00215},{"t":45.7,"FreeBG":0.00077},{"t":46.8,"FreeBG":-0.0002},{"t":47.7,"FreeBG":-0.0002},{"t":48.7,"FreeBG":-0.0015},{"t":49,"FreeBG":-0.0013},
      {"t":0,"m1":-0.0001,"m2":-0.0007,"m3":0.0001},{"t":1,"m1":-0.0008,"m2":-0.0014,"m3":-0.0009},{"t":2,"m1":0.0003,"m2":-0.0004,"m3":0.0006},{"t":3,"m1":-0.0004,"m2":-0.001,"m3":-0.0003},{"t":4,"m1":-0.0008,"m2":-0.0014,"m3":-0.0006},{"t":5,"m1":0.0001,"m2":-0.0006,"m3":0.0005},{"t":6,"m1":-0.0014,"m2":-0.002,"m3":-0.0012},{"t":7,"m1":-0.0017,"m2":-0.0024,"m3":-0.0016},{"t":8,"m1":-0.0003,"m2":-0.0009,"m3":-0.0005},{"t":9,"m1":0.0014,"m2":0.0008,"m3":0.0009},{"t":10,"m1":0.0023,"m2":0.0016,"m3":0.0015},{"t":11,"m1":0.0016,"m2":0.0009,"m3":0.0009},{"t":12,"m1":0.0015,"m2":0.0009,"m3":0.0011},{"t":13,"m1":0.0021,"m2":0.0015,"m3":0.0022},{"t":14,"m1":0.0027,"m2":0.0019,"m3":0.0031},{"t":15,"m1":0.0003,"m2":-0.0003,"m3":0.0003},{"t":16,"m1":-0.0011,"m2":-0.0017,"m3":-0.0008},{"t":17,"m1":-0.0003,"m2":-0.0009,"m3":0.0},{"t":18,"m1":-0.0012,"m2":-0.0018,"m3":-0.0012},{"t":19,"m1":-0.0002,"m2":-0.0008,"m3":-0.0003},{"t":20,"m1":-0.001,"m2":-0.0016,"m3":-0.0008},{"t":21,"m1":-0.0012,"m2":-0.0018,"m3":-0.0011},{"t":22,"m1":-0.0021,"m2":-0.0028,"m3":-0.0029},{"t":23,"m1":-0.0009,"m2":-0.0015,"m3":-0.0014},{"t":24,"m1":0.0013,"m2":0.0007,"m3":0.0008},{"t":25,"m1":0.0018,"m2":0.0011,"m3":0.0011},{"t":26,"m1":0.0017,"m2":0.0011,"m3":0.0009},{"t":27,"m1":0.0019,"m2":0.0013,"m3":0.0008},{"t":28,"m1":0.0019,"m2":0.0013,"m3":0.0014},{"t":29,"m1":0.0026,"m2":0.0019,"m3":0.0023},{"t":30,"m1":0.0011,"m2":0.0005,"m3":0.0011},{"t":31,"m1":0.0002,"m2":-0.0004,"m3":0.0003},{"t":32,"m1":-0.0004,"m2":-0.001,"m3":-0.0002},{"t":33,"m1":-0.0014,"m2":-0.002,"m3":-0.0013},{"t":34,"m1":-0.0006,"m2":-0.0012,"m3":-0.0005},{"t":35,"m1":-0.0012,"m2":-0.0018,"m3":-0.0013},{"t":36,"m1":-0.0002,"m2":-0.0008,"m3":-0.0001},{"t":37,"m1":-0.0006,"m2":-0.0012,"m3":-0.0008},{"t":38,"m1":-0.0023,"m2":-0.0029,"m3":-0.0022},{"t":39,"m1":-0.0005,"m2":-0.0011,"m3":-0.0008},{"t":40,"m1":0.0017,"m2":0.0011,"m3":0.0009},{"t":41,"m1":0.0017,"m2":0.0011,"m3":0.001},{"t":42,"m1":0.0018,"m2":0.0012,"m3":0.001},{"t":43,"m1":0.0022,"m2":0.0016,"m3":0.0015},{"t":44,"m1":0.0026,"m2":0.0019,"m3":0.0027},{"t":45,"m1":0.0017,"m2":0.0011,"m3":0.0017},{"t":46,"m1":0.0008,"m2":0.0002,"m3":0.0009},{"t":47,"m1":0.0002,"m2":-0.0004,"m3":0.0002},{"t":48,"m1":-0.0002,"m2":-0.0008,"m3":0.0},{"t":49,"m1":-0.0012,"m2":-0.0018,"m3":-0.0009},{"t":50,"m1":-0.0006,"m2":-0.0012,"m3":-0.0004}
    ],
    "b": [
      {"t":0,"EnsMean":0.0076,"Truth":0.007},{"t":0.25,"EnsMean":0.0065,"Truth":0.006},{"t":0.7,"EnsMean":-0.0004,"Truth":-0.0002},{"t":1.35,"EnsMean":-0.0084,"Truth":-0.0088},{"t":1.7,"EnsMean":-0.0051,"Truth":-0.0055},{"t":2.1,"EnsMean":0.0021,"Truth":0.0019},{"t":2.45,"EnsMean":0.0065,"Truth":0.0068},{"t":2.8,"EnsMean":0.0102,"Truth":0.0106},{"t":3.1,"EnsMean":0.0087,"Truth":0.009},{"t":3.55,"EnsMean":0.005,"Truth":0.0052},{"t":4,"EnsMean":0.0014,"Truth":0.0016},{"t":4.5,"EnsMean":-0.0004,"Truth":-0.0001},{"t":5,"EnsMean":-0.0026,"Truth":-0.0022},{"t":5.45,"EnsMean":0.0,"Truth":0.0},{"t":5.9,"EnsMean":0.004,"Truth":0.0043},{"t":6.2,"EnsMean":0.001,"Truth":0.0011},{"t":6.6,"EnsMean":-0.0029,"Truth":-0.0027},{"t":7.1,"EnsMean":-0.0015,"Truth":-0.0016},{"t":7.55,"EnsMean":-0.0059,"Truth":-0.0055},{"t":8.05,"EnsMean":-0.011,"Truth":-0.0108},{"t":8.4,"EnsMean":-0.0059,"Truth":-0.0062},{"t":8.8,"EnsMean":-0.0033,"Truth":-0.0035},{"t":9.1,"EnsMean":-0.0029,"Truth":-0.003},{"t":9.5,"EnsMean":-0.0008,"Truth":-0.0007},{"t":9.9,"EnsMean":-0.0029,"Truth":-0.0032},{"t":10.3,"EnsMean":-0.004,"Truth":-0.0042},{"t":10.55,"EnsMean":-0.0029,"Truth":-0.0031},{"t":10.95,"EnsMean":-0.0066,"Truth":-0.0063},{"t":11.3,"EnsMean":-0.0095,"Truth":-0.009},{"t":11.7,"EnsMean":-0.0037,"Truth":-0.004},{"t":12.05,"EnsMean":0.0029,"Truth":0.0026},{"t":12.4,"EnsMean":0.0083,"Truth":0.0095},{"t":12.75,"EnsMean":0.0061,"Truth":0.0065},{"t":13.1,"EnsMean":0.0014,"Truth":0.0003},{"t":13.5,"EnsMean":0.0025,"Truth":0.0016},{"t":13.9,"EnsMean":0.0,"Truth":-0.0002},{"t":14.3,"EnsMean":-0.0022,"Truth":-0.0024},{"t":14.7,"EnsMean":0.0014,"Truth":0.0012},{"t":15.2,"EnsMean":0.0058,"Truth":0.0056},{"t":15.65,"EnsMean":0.0072,"Truth":0.0074},{"t":16.1,"EnsMean":0.0069,"Truth":0.0076},{"t":16.45,"EnsMean":0.0021,"Truth":0.0012},{"t":16.9,"EnsMean":0.0025,"Truth":0.0018},{"t":17.4,"EnsMean":0.0061,"Truth":0.0065},{"t":17.7,"EnsMean":0.0014,"Truth":0.0011},{"t":18.2,"EnsMean":0.0043,"Truth":0.0048},{"t":18.5,"EnsMean":0.008,"Truth":0.0088},{"t":18.9,"EnsMean":0.0051,"Truth":0.0055},{"t":19.3,"EnsMean":0.0032,"Truth":0.0035},{"t":19.6,"EnsMean":0.0021,"Truth":0.0023},{"t":20.1,"EnsMean":-0.004,"Truth":-0.0047},{"t":20.45,"EnsMean":-0.0008,"Truth":-0.001},{"t":21,"EnsMean":0.0018,"Truth":0.0015},{"t":21.5,"EnsMean":0.0029,"Truth":0.0026},{"t":21.9,"EnsMean":0.0043,"Truth":0.0038},{"t":22.3,"EnsMean":0.0021,"Truth":0.0019},{"t":22.7,"EnsMean":-0.0011,"Truth":-0.0015},{"t":23.2,"EnsMean":-0.0044,"Truth":-0.0048},{"t":23.7,"EnsMean":-0.0015,"Truth":-0.0019},{"t":24.1,"EnsMean":0.0014,"Truth":0.001},{"t":24.5,"EnsMean":-0.0029,"Truth":-0.0026},{"t":24.9,"EnsMean":-0.0073,"Truth":-0.0077},{"t":25.4,"EnsMean":-0.0069,"Truth":-0.007},{"t":25.9,"EnsMean":-0.0051,"Truth":-0.0055},{"t":26.2,"EnsMean":-0.0059,"Truth":-0.0063},{"t":26.7,"EnsMean":-0.004,"Truth":-0.0043},{"t":27.1,"EnsMean":-0.0044,"Truth":-0.0047},{"t":27.5,"EnsMean":0.0,"Truth":-0.0004},{"t":27.9,"EnsMean":-0.004,"Truth":-0.0052},{"t":28.4,"EnsMean":-0.0037,"Truth":-0.0042},{"t":28.9,"EnsMean":0.0003,"Truth":-0.0001},{"t":29.35,"EnsMean":0.0054,"Truth":0.0049},{"t":29.8,"EnsMean":0.0036,"Truth":0.0034},{"t":30.2,"EnsMean":0.001,"Truth":-0.0005},{"t":30.8,"EnsMean":0.0014,"Truth":0.0006},{"t":31.2,"EnsMean":0.0029,"Truth":0.002},{"t":31.55,"EnsMean":0.0072,"Truth":0.0068},{"t":31.9,"EnsMean":0.0094,"Truth":0.0096},{"t":32.2,"EnsMean":0.0076,"Truth":0.0081},{"t":32.7,"EnsMean":0.0098,"Truth":0.01},{"t":33,"EnsMean":0.0065,"Truth":0.0068},{"t":33.4,"EnsMean":0.0021,"Truth":0.0025},{"t":33.8,"EnsMean":0.0032,"Truth":0.0035},{"t":34.2,"EnsMean":0.002,"Truth":0.0023},{"t":34.6,"EnsMean":0.005,"Truth":0.0052},{"t":35.2,"EnsMean":0.0105,"Truth":0.0109},{"t":35.8,"EnsMean":0.0054,"Truth":0.0058},{"t":36.3,"EnsMean":0.0,"Truth":0.0003},{"t":36.7,"EnsMean":-0.0037,"Truth":-0.0035},{"t":37,"EnsMean":-0.0073,"Truth":-0.0068},{"t":37.3,"EnsMean":-0.003,"Truth":-0.0028},{"t":37.7,"EnsMean":0.0025,"Truth":0.0021},{"t":38,"EnsMean":0.0021,"Truth":0.0017},{"t":38.3,"EnsMean":0.005,"Truth":0.0048},{"t":38.6,"EnsMean":0.0072,"Truth":0.0075},{"t":38.9,"EnsMean":0.0047,"Truth":0.0051},{"t":39.4,"EnsMean":0.0,"Truth":0.0002},{"t":39.7,"EnsMean":-0.0044,"Truth":-0.0048},{"t":40,"EnsMean":-0.0062,"Truth":-0.0066},{"t":40.35,"EnsMean":-0.003,"Truth":-0.0028},{"t":40.7,"EnsMean":-0.0015,"Truth":-0.0013},{"t":41,"EnsMean":-0.0037,"Truth":-0.0039},{"t":41.3,"EnsMean":-0.0073,"Truth":-0.0076},{"t":41.8,"EnsMean":-0.0062,"Truth":-0.006},{"t":42.2,"EnsMean":-0.0026,"Truth":-0.0024},{"t":42.6,"EnsMean":-0.0048,"Truth":-0.005},{"t":43,"EnsMean":-0.002,"Truth":-0.0022},{"t":43.4,"EnsMean":0.004,"Truth":0.0036},{"t":43.8,"EnsMean":-0.001,"Truth":-0.0012},{"t":44.3,"EnsMean":-0.0075,"Truth":-0.0078},{"t":44.6,"EnsMean":-0.0088,"Truth":-0.009},{"t":45.2,"EnsMean":-0.0022,"Truth":-0.0025},{"t":45.7,"EnsMean":-0.0004,"Truth":-0.0008},{"t":46.2,"EnsMean":-0.0008,"Truth":-0.0012},{"t":46.7,"EnsMean":-0.0004,"Truth":-0.0009},{"t":47.1,"EnsMean":0.0032,"Truth":0.0035},{"t":47.5,"EnsMean":-0.0004,"Truth":-0.0006},{"t":48,"EnsMean":-0.0033,"Truth":-0.0035},{"t":48.4,"EnsMean":0.0,"Truth":0.0002},{"t":48.9,"EnsMean":0.0043,"Truth":0.0048},{"t":49.4,"EnsMean":0.0069,"Truth":0.0072},{"t":49.9,"EnsMean":0.0076,"Truth":0.0078},{"t":50,"EnsMean":0.0072,"Truth":0.0074},
      {"t":0,"FreeBG":0.0065},{"t":1,"FreeBG":-0.0015},{"t":3,"FreeBG":0.0075},{"t":4,"FreeBG":0.001},{"t":5,"FreeBG":-0.002},{"t":6,"FreeBG":0.005},{"t":7,"FreeBG":-0.002},{"t":8,"FreeBG":-0.011},{"t":8.8,"FreeBG":-0.003},{"t":10,"FreeBG":-0.0033},{"t":11,"FreeBG":-0.0075},{"t":12,"FreeBG":0.001},{"t":13,"FreeBG":0.0036},{"t":14,"FreeBG":0.001},{"t":16,"FreeBG":0.007},{"t":17,"FreeBG":0.0025},{"t":18,"FreeBG":0.001},{"t":19,"FreeBG":0.005},{"t":20,"FreeBG":-0.002},{"t":21,"FreeBG":0.002},{"t":22,"FreeBG":0.0036},{"t":23,"FreeBG":-0.003},{"t":24,"FreeBG":0.0},{"t":25,"FreeBG":-0.0058},{"t":26,"FreeBG":-0.004},{"t":27,"FreeBG":-0.0067},{"t":28,"FreeBG":-0.007},{"t":29,"FreeBG":0.002},{"t":30,"FreeBG":0.0025},{"t":31,"FreeBG":0.001},{"t":32,"FreeBG":0.0072},{"t":33,"FreeBG":0.0065},{"t":34,"FreeBG":0.0048},{"t":35,"FreeBG":0.0078},{"t":36,"FreeBG":0.004},{"t":37,"FreeBG":-0.0085},{"t":38,"FreeBG":0.0},{"t":39,"FreeBG":0.003},{"t":40,"FreeBG":-0.0055},{"t":41,"FreeBG":0.0003},{"t":42,"FreeBG":-0.003},{"t":43,"FreeBG":-0.005},{"t":44,"FreeBG":0.001},{"t":45,"FreeBG":-0.0008},{"t":46,"FreeBG":0.0023},{"t":47,"FreeBG":0.0005},{"t":48,"FreeBG":-0.005},{"t":49,"FreeBG":0.0025},
      {"t":0,"m1":0.0088,"m2":0.0064,"m3":0.0085},{"t":1,"m1":-0.0048,"m2":-0.0072,"m3":-0.0045},{"t":2,"m1":0.0027,"m2":0.0003,"m3":0.001},{"t":3,"m1":0.0107,"m2":0.0083,"m3":0.0098},{"t":4,"m1":0.0026,"m2":0.0002,"m3":0.0022},{"t":5,"m1":-0.0014,"m2":-0.0038,"m3":-0.0032},{"t":6,"m1":0.0047,"m2":0.0023,"m3":0.003},{"t":7,"m1":-0.0006,"m2":-0.003,"m3":-0.0025},{"t":8,"m1":-0.0093,"m2":-0.0117,"m3":-0.0112},{"t":9,"m1":-0.0018,"m2":-0.0042,"m3":-0.001},{"t":10,"m1":-0.002,"m2":-0.0044,"m3":-0.0025},{"t":11,"m1":-0.0058,"m2":-0.0082,"m3":-0.0075},{"t":12,"m1":0.0032,"m2":0.0008,"m3":0.0018},{"t":13,"m1":0.0037,"m2":0.0013,"m3":0.0045},{"t":14,"m1":0.0007,"m2":-0.0017,"m3":0.0012},{"t":15,"m1":0.0052,"m2":0.0028,"m3":0.0048},{"t":16,"m1":0.0082,"m2":0.0058,"m3":0.0066},{"t":17,"m1":0.0047,"m2":0.0023,"m3":0.0028},{"t":18,"m1":0.0042,"m2":0.0018,"m3":0.004},{"t":19,"m1":0.0057,"m2":0.0033,"m3":0.005},{"t":20,"m1":-0.0013,"m2":-0.0037,"m3":-0.0018},{"t":21,"m1":0.003,"m2":0.0006,"m3":0.001},{"t":22,"m1":0.0047,"m2":0.0023,"m3":0.0028},{"t":23,"m1":-0.0018,"m2":-0.0042,"m3":-0.0035},{"t":24,"m1":0.0017,"m2":-0.0007,"m3":0.0002},{"t":25,"m1":-0.0065,"m2":-0.0089,"m3":-0.006},{"t":26,"m1":-0.0043,"m2":-0.0067,"m3":-0.005},{"t":27,"m1":-0.003,"m2":-0.0054,"m3":-0.0038},{"t":28,"m1":-0.0028,"m2":-0.0052,"m3":-0.002},{"t":29,"m1":0.0027,"m2":0.0003,"m3":0.0028},{"t":30,"m1":0.0032,"m2":0.0008,"m3":0.0005},{"t":31,"m1":0.0032,"m2":0.0008,"m3":0.0022},{"t":32,"m1":0.0097,"m2":0.0073,"m3":0.0082},{"t":33,"m1":0.0077,"m2":0.0053,"m3":0.0075},{"t":34,"m1":0.0032,"m2":0.0008,"m3":0.003},{"t":35,"m1":0.0102,"m2":0.0078,"m3":0.0095},{"t":36,"m1":0.0032,"m2":0.0008,"m3":0.0025},{"t":37,"m1":-0.0061,"m2":-0.0085,"m3":-0.0065},{"t":38,"m1":0.0033,"m2":0.0009,"m3":0.0028},{"t":39,"m1":0.0042,"m2":0.0018,"m3":0.0038},{"t":40,"m1":-0.005,"m2":-0.0074,"m3":-0.0055},{"t":41,"m1":-0.0025,"m2":-0.0049,"m3":-0.004},{"t":42,"m1":-0.0028,"m2":-0.0052,"m3":-0.0035},{"t":43,"m1":-0.0008,"m2":-0.0032,"m3":-0.0012},{"t":44,"m1":-0.0043,"m2":-0.0067,"m3":-0.004},{"t":45,"m1":-0.0003,"m2":-0.0027,"m3":-0.001},{"t":46,"m1":0.0006,"m2":-0.0018,"m3":-0.0015},{"t":47,"m1":0.0032,"m2":0.0008,"m3":0.0015},{"t":48,"m1":-0.0021,"m2":-0.0045,"m3":-0.003},{"t":49,"m1":0.0067,"m2":0.0043,"m3":0.0062},{"t":50,"m1":0.0084,"m2":0.006,"m3":0.008}
    ]
  },
  "resolve": {"scale": {"color": "independent"}, "legend": {"color": "independent"}},
  "spacing": 33,
  "vconcat": [
    {
      "spacing": -10,
      "resolve": {"scale": {"color": "independent"}, "legend": {"color": "independent"}},
      "hconcat": [
        {
          "width": 534, "height": 286,
          "title": {"text": "u analysis", "dx": -12.5},
          "data": {"name": "u"},
          "layer": [
            {"data": {"name": "cycles"}, "mark": {"type": "rule", "color": "#ffff00", "strokeWidth": 1.3}, "encoding": {"x": {"field": "t", "type": "quantitative", "scale": {"domain": [0, 50], "nice": false, "range": [-25, 534]}, "axis": {"values": [0, 10, 20, 30, 40, 50], "title": "time (h)", "labelOverlap": false}}}},
            {"transform": [{"fold": ["m1", "m2", "m3"], "as": ["member", "value"]}, {"filter": "isValid(datum.value)"}], "mark": {"type": "line", "color": "#808080", "strokeWidth": 1.8, "opacity": 0.5}, "encoding": {"x": {"field": "t", "type": "quantitative", "scale": {"domain": [0, 50], "nice": false, "range": [-25, 534]}, "axis": {"values": [0, 10, 20, 30, 40, 50], "title": "time (h)", "labelOverlap": false}}, "y": {"field": "value", "type": "quantitative", "scale": {"domain": [-6, 10], "nice": false, "zero": false}, "axis": {"values": [-6, -4, -2, 0, 2, 4, 6, 8, 10], "labelOverlap": false, "title": "Cropped Domain Mean (m/s)", "minExtent": 25, "maxExtent": 25, "offset": 25}}, "detail": {"field": "member"}}},
            {"transform": [{"fold": ["FreeBG"], "as": ["series", "value"]}, {"filter": "isValid(datum.value)"}], "mark": {"type": "line", "strokeWidth": 1.2}, "encoding": {"x": {"field": "t", "type": "quantitative", "scale": {"domain": [0, 50], "nice": false, "range": [-25, 534]}, "axis": {"values": [0, 10, 20, 30, 40, 50], "title": "time (h)", "labelOverlap": false}}, "y": {"field": "value", "type": "quantitative", "scale": {"domain": [-6, 10], "nice": false, "zero": false}, "axis": {"values": [-6, -4, -2, 0, 2, 4, 6, 8, 10], "labelOverlap": false, "title": "Cropped Domain Mean (m/s)", "minExtent": 25, "maxExtent": 25, "offset": 25}}, "color": {"field": "series", "type": "nominal", "scale": {"domain": ["FreeBG", "Truth", "EnsMean"], "range": ["#0000ff", "#000000", "#ff0000"]}, "legend": {"title": null}}}},
            {"transform": [{"fold": ["Truth"], "as": ["series", "value"]}, {"filter": "isValid(datum.value)"}], "mark": {"type": "line", "strokeWidth": 1.3}, "encoding": {"x": {"field": "t", "type": "quantitative", "scale": {"domain": [0, 50], "nice": false, "range": [-25, 534]}, "axis": {"values": [0, 10, 20, 30, 40, 50], "title": "time (h)", "labelOverlap": false}}, "y": {"field": "value", "type": "quantitative", "scale": {"domain": [-6, 10], "nice": false, "zero": false}, "axis": {"values": [-6, -4, -2, 0, 2, 4, 6, 8, 10], "labelOverlap": false, "title": "Cropped Domain Mean (m/s)", "minExtent": 25, "maxExtent": 25, "offset": 25}}, "color": {"field": "series", "type": "nominal"}}},
            {"transform": [{"fold": ["EnsMean"], "as": ["series", "value"]}, {"filter": "isValid(datum.value)"}], "mark": {"type": "line", "strokeWidth": 1.6}, "encoding": {"x": {"field": "t", "type": "quantitative", "scale": {"domain": [0, 50], "nice": false, "range": [-25, 534]}, "axis": {"values": [0, 10, 20, 30, 40, 50], "title": "time (h)", "labelOverlap": false}}, "y": {"field": "value", "type": "quantitative", "scale": {"domain": [-6, 10], "nice": false, "zero": false}, "axis": {"values": [-6, -4, -2, 0, 2, 4, 6, 8, 10], "labelOverlap": false, "title": "Cropped Domain Mean (m/s)", "minExtent": 25, "maxExtent": 25, "offset": 25}}, "color": {"field": "series", "type": "nominal"}}},
            {"data": {"values": [{}]}, "mark": {"type": "rule", "color": "#000000", "strokeWidth": 1}, "encoding": {"x": {"datum": 0, "type": "quantitative", "scale": {"domain": [0, 50], "nice": false, "range": [-25, 534]}, "axis": {"values": [0, 10, 20, 30, 40, 50], "title": "time (h)", "labelOverlap": false}}}},
            {"data": {"values": [{}]}, "mark": {"type": "rule", "color": "#000000", "strokeWidth": 1}, "encoding": {"x": {"datum": 50, "type": "quantitative", "scale": {"domain": [0, 50], "nice": false, "range": [-25, 534]}, "axis": {"values": [0, 10, 20, 30, 40, 50], "title": "time (h)", "labelOverlap": false}}}},
            {"data": {"values": [{}]}, "mark": {"type": "rule", "color": "#000000", "strokeWidth": 1}, "encoding": {"x": {"datum": 0, "type": "quantitative", "scale": {"domain": [0, 50], "nice": false, "range": [-25, 534]}, "axis": {"values": [0, 10, 20, 30, 40, 50], "title": "time (h)", "labelOverlap": false}}, "x2": {"datum": 50}, "y": {"datum": 10, "type": "quantitative", "scale": {"domain": [-6, 10], "nice": false, "zero": false}, "axis": {"values": [-6, -4, -2, 0, 2, 4, 6, 8, 10], "labelOverlap": false, "title": "Cropped Domain Mean (m/s)", "minExtent": 25, "maxExtent": 25, "offset": 25}}}},
            {"data": {"values": [{}]}, "mark": {"type": "rule", "color": "#000000", "strokeWidth": 1}, "encoding": {"x": {"datum": 0, "type": "quantitative", "scale": {"domain": [0, 50], "nice": false, "range": [-25, 534]}, "axis": {"values": [0, 10, 20, 30, 40, 50], "title": "time (h)", "labelOverlap": false}}, "x2": {"datum": 50}, "y": {"datum": -6, "type": "quantitative", "scale": {"domain": [-6, 10], "nice": false, "zero": false}, "axis": {"values": [-6, -4, -2, 0, 2, 4, 6, 8, 10], "labelOverlap": false, "title": "Cropped Domain Mean (m/s)", "minExtent": 25, "maxExtent": 25, "offset": 25}}}}
          ]
        },
        {
          "width": 554, "height": 286,
          "title": {"text": "v analysis", "offset": -1},
          "data": {"name": "v"},
          "layer": [
            {"data": {"name": "cycles"}, "mark": {"type": "rule", "color": "#ffff00", "strokeWidth": 1.3}, "encoding": {"x": {"field": "t", "type": "quantitative", "scale": {"domain": [0, 50], "nice": false}, "axis": {"values": [0, 10, 20, 30, 40, 50], "title": "time (h)", "labelOverlap": false}}}},
            {"transform": [{"fold": ["m1", "m2", "m3"], "as": ["member", "value"]}, {"filter": "isValid(datum.value)"}], "mark": {"type": "line", "color": "#808080", "strokeWidth": 1.8, "opacity": 0.5}, "encoding": {"x": {"field": "t", "type": "quantitative", "scale": {"domain": [0, 50], "nice": false}, "axis": {"values": [0, 10, 20, 30, 40, 50], "title": "time (h)", "labelOverlap": false}}, "y": {"field": "value", "type": "quantitative", "scale": {"domain": [1.0, 2.5], "nice": false, "zero": false}, "axis": {"values": [1.0, 1.2, 1.4, 1.6, 1.8, 2.0, 2.2, 2.4], "labelOverlap": false, "format": ".1f", "title": "Cropped Domain Mean (m/s)", "minExtent": 28, "maxExtent": 28}}, "detail": {"field": "member"}}},
            {"transform": [{"fold": ["FreeBG"], "as": ["series", "value"]}, {"filter": "isValid(datum.value)"}], "mark": {"type": "line", "strokeWidth": 1.2}, "encoding": {"x": {"field": "t", "type": "quantitative", "scale": {"domain": [0, 50], "nice": false}, "axis": {"values": [0, 10, 20, 30, 40, 50], "title": "time (h)", "labelOverlap": false}}, "y": {"field": "value", "type": "quantitative", "scale": {"domain": [1.0, 2.5], "nice": false, "zero": false}, "axis": {"values": [1.0, 1.2, 1.4, 1.6, 1.8, 2.0, 2.2, 2.4], "labelOverlap": false, "format": ".1f", "title": "Cropped Domain Mean (m/s)", "minExtent": 28, "maxExtent": 28}}, "color": {"field": "series", "type": "nominal", "scale": {"domain": ["FreeBG", "Truth", "EnsMean"], "range": ["#0000ff", "#000000", "#ff0000"]}, "legend": {"title": null}}}},
            {"transform": [{"fold": ["Truth"], "as": ["series", "value"]}, {"filter": "isValid(datum.value)"}], "mark": {"type": "line", "strokeWidth": 1.3}, "encoding": {"x": {"field": "t", "type": "quantitative", "scale": {"domain": [0, 50], "nice": false}, "axis": {"values": [0, 10, 20, 30, 40, 50], "title": "time (h)", "labelOverlap": false}}, "y": {"field": "value", "type": "quantitative", "scale": {"domain": [1.0, 2.5], "nice": false, "zero": false}, "axis": {"values": [1.0, 1.2, 1.4, 1.6, 1.8, 2.0, 2.2, 2.4], "labelOverlap": false, "format": ".1f", "title": "Cropped Domain Mean (m/s)", "minExtent": 28, "maxExtent": 28}}, "color": {"field": "series", "type": "nominal"}}},
            {"transform": [{"fold": ["EnsMean"], "as": ["series", "value"]}, {"filter": "isValid(datum.value)"}], "mark": {"type": "line", "strokeWidth": 1.6}, "encoding": {"x": {"field": "t", "type": "quantitative", "scale": {"domain": [0, 50], "nice": false}, "axis": {"values": [0, 10, 20, 30, 40, 50], "title": "time (h)", "labelOverlap": false}}, "y": {"field": "value", "type": "quantitative", "scale": {"domain": [1.0, 2.5], "nice": false, "zero": false}, "axis": {"values": [1.0, 1.2, 1.4, 1.6, 1.8, 2.0, 2.2, 2.4], "labelOverlap": false, "format": ".1f", "title": "Cropped Domain Mean (m/s)", "minExtent": 28, "maxExtent": 28}}, "color": {"field": "series", "type": "nominal"}}},
            {"data": {"values": [{}]}, "mark": {"type": "rule", "color": "#000000", "strokeWidth": 1}, "encoding": {"x": {"datum": 0, "type": "quantitative", "scale": {"domain": [0, 50], "nice": false}, "axis": {"values": [0, 10, 20, 30, 40, 50], "title": "time (h)", "labelOverlap": false}}}},
            {"data": {"values": [{}]}, "mark": {"type": "rule", "color": "#000000", "strokeWidth": 1}, "encoding": {"x": {"datum": 50, "type": "quantitative", "scale": {"domain": [0, 50], "nice": false}, "axis": {"values": [0, 10, 20, 30, 40, 50], "title": "time (h)", "labelOverlap": false}}}},
            {"data": {"values": [{}]}, "mark": {"type": "rule", "color": "#000000", "strokeWidth": 1}, "encoding": {"y": {"datum": 2.5, "type": "quantitative", "scale": {"domain": [1.0, 2.5], "nice": false, "zero": false}, "axis": {"values": [1.0, 1.2, 1.4, 1.6, 1.8, 2.0, 2.2, 2.4], "labelOverlap": false, "format": ".1f", "title": "Cropped Domain Mean (m/s)", "minExtent": 28, "maxExtent": 28}}}},
            {"data": {"values": [{}]}, "mark": {"type": "rule", "color": "#000000", "strokeWidth": 1}, "encoding": {"y": {"datum": 1.0, "type": "quantitative", "scale": {"domain": [1.0, 2.5], "nice": false, "zero": false}, "axis": {"values": [1.0, 1.2, 1.4, 1.6, 1.8, 2.0, 2.2, 2.4], "labelOverlap": false, "format": ".1f", "title": "Cropped Domain Mean (m/s)", "minExtent": 28, "maxExtent": 28}}}}
          ]
        }
      ]
    },
    {
      "spacing": 5,
      "resolve": {"scale": {"color": "independent"}, "legend": {"color": "independent"}},
      "hconcat": [
        {
          "width": 534, "height": 277,
          "title": {"text": "w analysis", "dx": -2.5},
          "data": {"name": "w"},
          "layer": [
            {"data": {"name": "cycles"}, "mark": {"type": "rule", "color": "#ffff00", "strokeWidth": 1.3}, "encoding": {"x": {"field": "t", "type": "quantitative", "scale": {"domain": [0, 50], "nice": false, "range": [-5, 534]}, "axis": {"values": [0, 10, 20, 30, 40, 50], "title": "time (h)", "labelOverlap": false}}}},
            {"transform": [{"fold": ["m1", "m2"], "as": ["member", "value"]}, {"filter": "isValid(datum.value)"}], "mark": {"type": "line", "color": "#808080", "strokeWidth": 1.8, "opacity": 0.45}, "encoding": {"x": {"field": "t", "type": "quantitative", "scale": {"domain": [0, 50], "nice": false, "range": [-5, 534]}, "axis": {"values": [0, 10, 20, 30, 40, 50], "title": "time (h)", "labelOverlap": false}}, "y": {"field": "value", "type": "quantitative", "scale": {"domain": [-0.2, 0.2], "nice": false, "zero": false}, "axis": {"values": [-0.2, -0.15, -0.1, -0.05, 0, 0.05, 0.1, 0.15, 0.2], "labelOverlap": false, "format": ".2f", "title": "Cropped Domain Mean (m/s)", "minExtent": 45, "maxExtent": 45, "offset": 5}}, "detail": {"field": "member"}}},
            {"transform": [{"fold": ["FreeBG"], "as": ["series", "value"]}, {"filter": "isValid(datum.value)"}], "mark": {"type": "line", "strokeWidth": 1.2}, "encoding": {"x": {"field": "t", "type": "quantitative", "scale": {"domain": [0, 50], "nice": false, "range": [-5, 534]}, "axis": {"values": [0, 10, 20, 30, 40, 50], "title": "time (h)", "labelOverlap": false}}, "y": {"field": "value", "type": "quantitative", "scale": {"domain": [-0.2, 0.2], "nice": false, "zero": false}, "axis": {"values": [-0.2, -0.15, -0.1, -0.05, 0, 0.05, 0.1, 0.15, 0.2], "labelOverlap": false, "format": ".2f", "title": "Cropped Domain Mean (m/s)", "minExtent": 45, "maxExtent": 45, "offset": 5}}, "color": {"field": "series", "type": "nominal", "scale": {"domain": ["FreeBG", "Truth", "EnsMean"], "range": ["#0000ff", "#000000", "#ff0000"]}, "legend": {"title": null}}}},
            {"transform": [{"fold": ["Truth"], "as": ["series", "value"]}, {"filter": "isValid(datum.value)"}], "mark": {"type": "line", "strokeWidth": 1.3}, "encoding": {"x": {"field": "t", "type": "quantitative", "scale": {"domain": [0, 50], "nice": false, "range": [-5, 534]}, "axis": {"values": [0, 10, 20, 30, 40, 50], "title": "time (h)", "labelOverlap": false}}, "y": {"field": "value", "type": "quantitative", "scale": {"domain": [-0.2, 0.2], "nice": false, "zero": false}, "axis": {"values": [-0.2, -0.15, -0.1, -0.05, 0, 0.05, 0.1, 0.15, 0.2], "labelOverlap": false, "format": ".2f", "title": "Cropped Domain Mean (m/s)", "minExtent": 45, "maxExtent": 45, "offset": 5}}, "color": {"field": "series", "type": "nominal"}}},
            {"transform": [{"fold": ["EnsMean"], "as": ["series", "value"]}, {"filter": "isValid(datum.value)"}], "mark": {"type": "line", "strokeWidth": 1.6}, "encoding": {"x": {"field": "t", "type": "quantitative", "scale": {"domain": [0, 50], "nice": false, "range": [-5, 534]}, "axis": {"values": [0, 10, 20, 30, 40, 50], "title": "time (h)", "labelOverlap": false}}, "y": {"field": "value", "type": "quantitative", "scale": {"domain": [-0.2, 0.2], "nice": false, "zero": false}, "axis": {"values": [-0.2, -0.15, -0.1, -0.05, 0, 0.05, 0.1, 0.15, 0.2], "labelOverlap": false, "format": ".2f", "title": "Cropped Domain Mean (m/s)", "minExtent": 45, "maxExtent": 45, "offset": 5}}, "color": {"field": "series", "type": "nominal"}}},
            {"data": {"values": [{}]}, "mark": {"type": "rule", "color": "#000000", "strokeWidth": 1}, "encoding": {"x": {"datum": 0, "type": "quantitative", "scale": {"domain": [0, 50], "nice": false, "range": [-5, 534]}, "axis": {"values": [0, 10, 20, 30, 40, 50], "title": "time (h)", "labelOverlap": false}}}},
            {"data": {"values": [{}]}, "mark": {"type": "rule", "color": "#000000", "strokeWidth": 1}, "encoding": {"x": {"datum": 50, "type": "quantitative", "scale": {"domain": [0, 50], "nice": false, "range": [-5, 534]}, "axis": {"values": [0, 10, 20, 30, 40, 50], "title": "time (h)", "labelOverlap": false}}}},
            {"data": {"values": [{}]}, "mark": {"type": "rule", "color": "#000000", "strokeWidth": 1}, "encoding": {"x": {"datum": 0, "type": "quantitative", "scale": {"domain": [0, 50], "nice": false, "range": [-5, 534]}, "axis": {"values": [0, 10, 20, 30, 40, 50], "title": "time (h)", "labelOverlap": false}}, "x2": {"datum": 50}, "y": {"datum": 0.2, "type": "quantitative", "scale": {"domain": [-0.2, 0.2], "nice": false, "zero": false}, "axis": {"values": [-0.2, -0.15, -0.1, -0.05, 0, 0.05, 0.1, 0.15, 0.2], "labelOverlap": false, "format": ".2f", "title": "Cropped Domain Mean (m/s)", "minExtent": 45, "maxExtent": 45, "offset": 5}}}},
            {"data": {"values": [{}]}, "mark": {"type": "rule", "color": "#000000", "strokeWidth": 1}, "encoding": {"x": {"datum": 0, "type": "quantitative", "scale": {"domain": [0, 50], "nice": false, "range": [-5, 534]}, "axis": {"values": [0, 10, 20, 30, 40, 50], "title": "time (h)", "labelOverlap": false}}, "x2": {"datum": 50}, "y": {"datum": -0.2, "type": "quantitative", "scale": {"domain": [-0.2, 0.2], "nice": false, "zero": false}, "axis": {"values": [-0.2, -0.15, -0.1, -0.05, 0, 0.05, 0.1, 0.15, 0.2], "labelOverlap": false, "format": ".2f", "title": "Cropped Domain Mean (m/s)", "minExtent": 45, "maxExtent": 45, "offset": 5}}}}
          ]
        },
        {
          "width": 526, "height": 274,
          "title": {"text": "ρ̃′ analysis"},
          "data": {"name": "rho"},
          "layer": [
            {"data": {"name": "cycles"}, "mark": {"type": "rule", "color": "#ffff00", "strokeWidth": 1.3}, "encoding": {"x": {"field": "t", "type": "quantitative", "scale": {"domain": [0, 50], "nice": false}, "axis": {"values": [0, 10, 20, 30, 40, 50], "title": "time (h)", "labelOverlap": false}}}},
            {"transform": [{"fold": ["m1", "m2", "m3"], "as": ["member", "value"]}, {"filter": "isValid(datum.value)"}], "mark": {"type": "line", "color": "#808080", "strokeWidth": 1.8, "opacity": 0.5}, "encoding": {"x": {"field": "t", "type": "quantitative", "scale": {"domain": [0, 50], "nice": false}, "axis": {"values": [0, 10, 20, 30, 40, 50], "title": "time (h)", "labelOverlap": false}}, "y": {"field": "value", "type": "quantitative", "scale": {"domain": [-0.008, 0.008], "nice": false, "zero": false}, "axis": {"values": [-0.008, -0.006, -0.004, -0.002, 0, 0.002, 0.004, 0.006, 0.008], "labelOverlap": false, "format": ".3f", "title": "Cropped Domain Mean (dimensionless)", "minExtent": 56, "maxExtent": 56}}, "detail": {"field": "member"}}},
            {"transform": [{"fold": ["FreeBG"], "as": ["series", "value"]}, {"filter": "isValid(datum.value)"}], "mark": {"type": "line", "strokeWidth": 1.2}, "encoding": {"x": {"field": "t", "type": "quantitative", "scale": {"domain": [0, 50], "nice": false}, "axis": {"values": [0, 10, 20, 30, 40, 50], "title": "time (h)", "labelOverlap": false}}, "y": {"field": "value", "type": "quantitative", "scale": {"domain": [-0.008, 0.008], "nice": false, "zero": false}, "axis": {"values": [-0.008, -0.006, -0.004, -0.002, 0, 0.002, 0.004, 0.006, 0.008], "labelOverlap": false, "format": ".3f", "title": "Cropped Domain Mean (dimensionless)", "minExtent": 56, "maxExtent": 56}}, "color": {"field": "series", "type": "nominal", "scale": {"domain": ["FreeBG", "Truth", "EnsMean"], "range": ["#0000ff", "#000000", "#ff0000"]}, "legend": {"title": null}}}},
            {"transform": [{"fold": ["Truth"], "as": ["series", "value"]}, {"filter": "isValid(datum.value)"}], "mark": {"type": "line", "strokeWidth": 1.3}, "encoding": {"x": {"field": "t", "type": "quantitative", "scale": {"domain": [0, 50], "nice": false}, "axis": {"values": [0, 10, 20, 30, 40, 50], "title": "time (h)", "labelOverlap": false}}, "y": {"field": "value", "type": "quantitative", "scale": {"domain": [-0.008, 0.008], "nice": false, "zero": false}, "axis": {"values": [-0.008, -0.006, -0.004, -0.002, 0, 0.002, 0.004, 0.006, 0.008], "labelOverlap": false, "format": ".3f", "title": "Cropped Domain Mean (dimensionless)", "minExtent": 56, "maxExtent": 56}}, "color": {"field": "series", "type": "nominal"}}},
            {"transform": [{"fold": ["EnsMean"], "as": ["series", "value"]}, {"filter": "isValid(datum.value)"}], "mark": {"type": "line", "strokeWidth": 1.6}, "encoding": {"x": {"field": "t", "type": "quantitative", "scale": {"domain": [0, 50], "nice": false}, "axis": {"values": [0, 10, 20, 30, 40, 50], "title": "time (h)", "labelOverlap": false}}, "y": {"field": "value", "type": "quantitative", "scale": {"domain": [-0.008, 0.008], "nice": false, "zero": false}, "axis": {"values": [-0.008, -0.006, -0.004, -0.002, 0, 0.002, 0.004, 0.006, 0.008], "labelOverlap": false, "format": ".3f", "title": "Cropped Domain Mean (dimensionless)", "minExtent": 56, "maxExtent": 56}}, "color": {"field": "series", "type": "nominal"}}},
            {"data": {"values": [{}]}, "mark": {"type": "rule", "color": "#000000", "strokeWidth": 1}, "encoding": {"x": {"datum": 0, "type": "quantitative", "scale": {"domain": [0, 50], "nice": false}, "axis": {"values": [0, 10, 20, 30, 40, 50], "title": "time (h)", "labelOverlap": false}}}},
            {"data": {"values": [{}]}, "mark": {"type": "rule", "color": "#000000", "strokeWidth": 1}, "encoding": {"x": {"datum": 50, "type": "quantitative", "scale": {"domain": [0, 50], "nice": false}, "axis": {"values": [0, 10, 20, 30, 40, 50], "title": "time (h)", "labelOverlap": false}}}},
            {"data": {"values": [{}]}, "mark": {"type": "rule", "color": "#000000", "strokeWidth": 1}, "encoding": {"y": {"datum": 0.008, "type": "quantitative", "scale": {"domain": [-0.008, 0.008], "nice": false, "zero": false}, "axis": {"values": [-0.008, -0.006, -0.004, -0.002, 0, 0.002, 0.004, 0.006, 0.008], "labelOverlap": false, "format": ".3f", "title": "Cropped Domain Mean (dimensionless)", "minExtent": 56, "maxExtent": 56}}}},
            {"data": {"values": [{}]}, "mark": {"type": "rule", "color": "#000000", "strokeWidth": 1}, "encoding": {"y": {"datum": -0.008, "type": "quantitative", "scale": {"domain": [-0.008, 0.008], "nice": false, "zero": false}, "axis": {"values": [-0.008, -0.006, -0.004, -0.002, 0, 0.002, 0.004, 0.006, 0.008], "labelOverlap": false, "format": ".3f", "title": "Cropped Domain Mean (dimensionless)", "minExtent": 56, "maxExtent": 56}}}}
          ]
        }
      ]
    },
    {
      "spacing": 8,
      "resolve": {"scale": {"color": "independent"}, "legend": {"color": "independent"}},
      "hconcat": [
        {
          "width": 530, "height": 275,
          "title": {"text": "b′ analysis"},
          "data": {"name": "b"},
          "layer": [
            {"data": {"name": "cycles"}, "mark": {"type": "rule", "color": "#ffff00", "strokeWidth": 1.3}, "encoding": {"x": {"field": "t", "type": "quantitative", "scale": {"domain": [0, 50], "nice": false}, "axis": {"values": [0, 10, 20, 30, 40, 50], "title": "time (h)", "labelOverlap": false}}}},
            {"transform": [{"fold": ["m1", "m2", "m3"], "as": ["member", "value"]}, {"filter": "isValid(datum.value)"}], "mark": {"type": "line", "color": "#808080", "strokeWidth": 1.8, "opacity": 0.5}, "encoding": {"x": {"field": "t", "type": "quantitative", "scale": {"domain": [0, 50], "nice": false}, "axis": {"values": [0, 10, 20, 30, 40, 50], "title": "time (h)", "labelOverlap": false}}, "y": {"field": "value", "type": "quantitative", "scale": {"domain": [-0.03, 0.03], "nice": false, "zero": false}, "axis": {"values": [-0.03, -0.02, -0.01, 0, 0.01, 0.02, 0.03], "labelOverlap": false, "format": ".2f", "title": "Cropped Domain Mean (m/s²)", "minExtent": 50, "maxExtent": 50}}, "detail": {"field": "member"}}},
            {"transform": [{"fold": ["FreeBG"], "as": ["series", "value"]}, {"filter": "isValid(datum.value)"}], "mark": {"type": "line", "strokeWidth": 1.2}, "encoding": {"x": {"field": "t", "type": "quantitative", "scale": {"domain": [0, 50], "nice": false}, "axis": {"values": [0, 10, 20, 30, 40, 50], "title": "time (h)", "labelOverlap": false}}, "y": {"field": "value", "type": "quantitative", "scale": {"domain": [-0.03, 0.03], "nice": false, "zero": false}, "axis": {"values": [-0.03, -0.02, -0.01, 0, 0.01, 0.02, 0.03], "labelOverlap": false, "format": ".2f", "title": "Cropped Domain Mean (m/s²)", "minExtent": 50, "maxExtent": 50}}, "color": {"field": "series", "type": "nominal", "scale": {"domain": ["FreeBG", "Truth", "EnsMean"], "range": ["#0000ff", "#000000", "#ff0000"]}, "legend": {"title": null}}}},
            {"transform": [{"fold": ["Truth"], "as": ["series", "value"]}, {"filter": "isValid(datum.value)"}], "mark": {"type": "line", "strokeWidth": 1.3}, "encoding": {"x": {"field": "t", "type": "quantitative", "scale": {"domain": [0, 50], "nice": false}, "axis": {"values": [0, 10, 20, 30, 40, 50], "title": "time (h)", "labelOverlap": false}}, "y": {"field": "value", "type": "quantitative", "scale": {"domain": [-0.03, 0.03], "nice": false, "zero": false}, "axis": {"values": [-0.03, -0.02, -0.01, 0, 0.01, 0.02, 0.03], "labelOverlap": false, "format": ".2f", "title": "Cropped Domain Mean (m/s²)", "minExtent": 50, "maxExtent": 50}}, "color": {"field": "series", "type": "nominal"}}},
            {"transform": [{"fold": ["EnsMean"], "as": ["series", "value"]}, {"filter": "isValid(datum.value)"}], "mark": {"type": "line", "strokeWidth": 1.6}, "encoding": {"x": {"field": "t", "type": "quantitative", "scale": {"domain": [0, 50], "nice": false}, "axis": {"values": [0, 10, 20, 30, 40, 50], "title": "time (h)", "labelOverlap": false}}, "y": {"field": "value", "type": "quantitative", "scale": {"domain": [-0.03, 0.03], "nice": false, "zero": false}, "axis": {"values": [-0.03, -0.02, -0.01, 0, 0.01, 0.02, 0.03], "labelOverlap": false, "format": ".2f", "title": "Cropped Domain Mean (m/s²)", "minExtent": 50, "maxExtent": 50}}, "color": {"field": "series", "type": "nominal"}}},
            {"data": {"values": [{}]}, "mark": {"type": "rule", "color": "#000000", "strokeWidth": 1}, "encoding": {"x": {"datum": 0, "type": "quantitative", "scale": {"domain": [0, 50], "nice": false}, "axis": {"values": [0, 10, 20, 30, 40, 50], "title": "time (h)", "labelOverlap": false}}}},
            {"data": {"values": [{}]}, "mark": {"type": "rule", "color": "#000000", "strokeWidth": 1}, "encoding": {"x": {"datum": 50, "type": "quantitative", "scale": {"domain": [0, 50], "nice": false}, "axis": {"values": [0, 10, 20, 30, 40, 50], "title": "time (h)", "labelOverlap": false}}}},
            {"data": {"values": [{}]}, "mark": {"type": "rule", "color": "#000000", "strokeWidth": 1}, "encoding": {"y": {"datum": 0.03, "type": "quantitative", "scale": {"domain": [-0.03, 0.03], "nice": false, "zero": false}, "axis": {"values": [-0.03, -0.02, -0.01, 0, 0.01, 0.02, 0.03], "labelOverlap": false, "format": ".2f", "title": "Cropped Domain Mean (m/s²)", "minExtent": 50, "maxExtent": 50}}}},
            {"data": {"values": [{}]}, "mark": {"type": "rule", "color": "#000000", "strokeWidth": 1}, "encoding": {"y": {"datum": -0.03, "type": "quantitative", "scale": {"domain": [-0.03, 0.03], "nice": false, "zero": false}, "axis": {"values": [-0.03, -0.02, -0.01, 0, 0.01, 0.02, 0.03], "labelOverlap": false, "format": ".2f", "title": "Cropped Domain Mean (m/s²)", "minExtent": 50, "maxExtent": 50}}}}
          ]
        }
      ]
    }
  ]
}
